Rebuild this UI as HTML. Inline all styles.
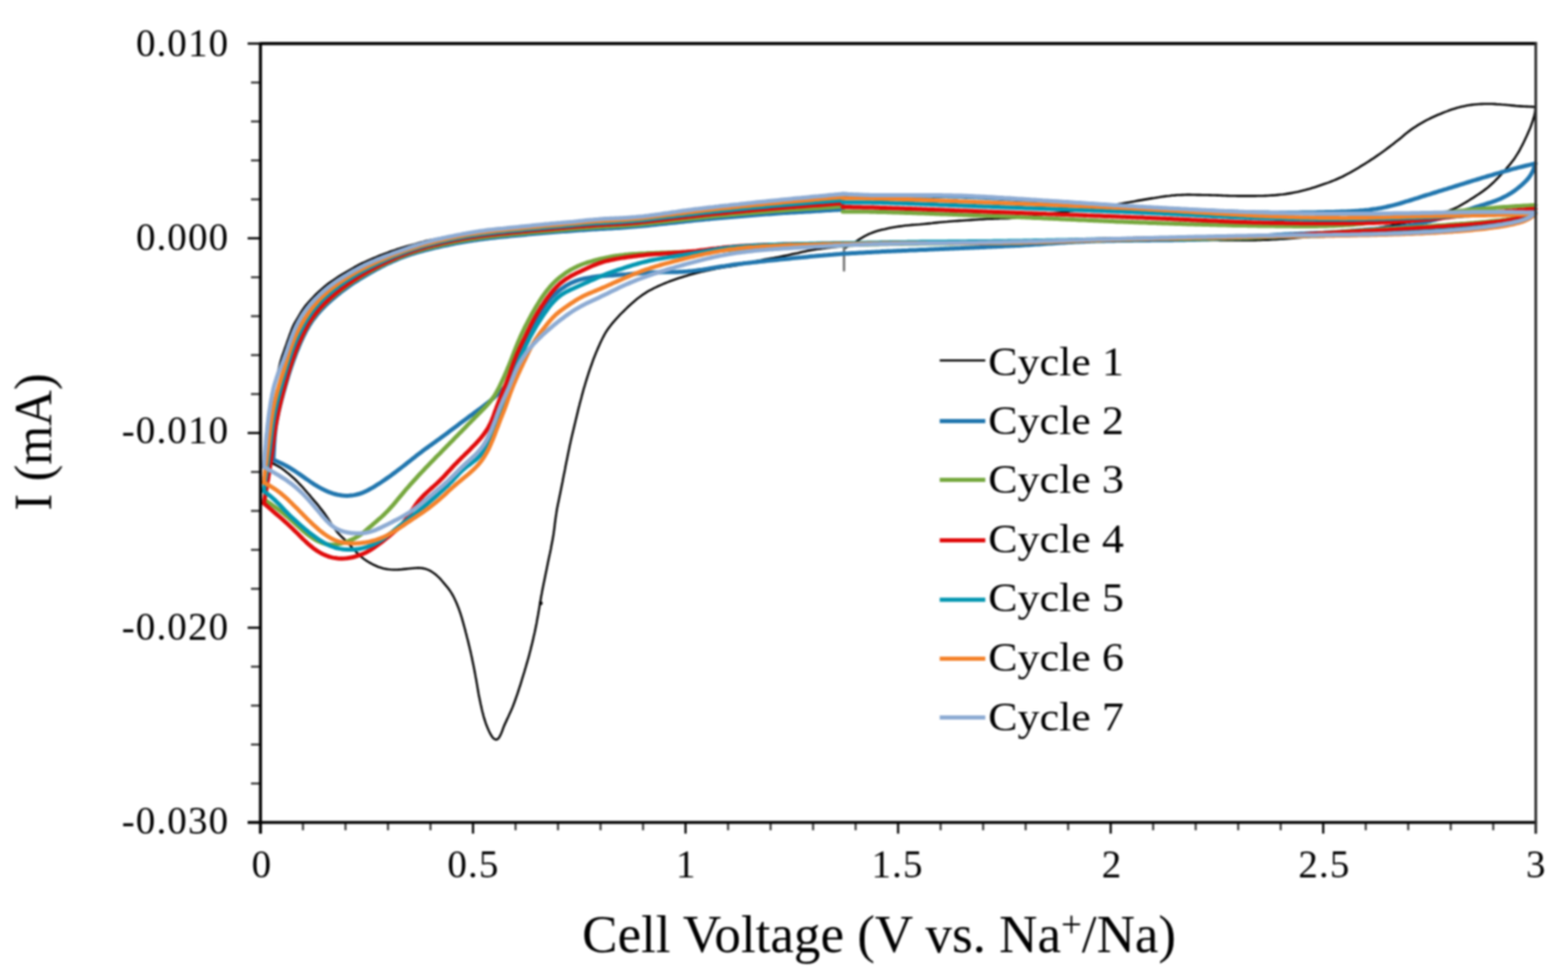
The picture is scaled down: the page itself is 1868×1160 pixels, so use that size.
<!DOCTYPE html>
<html><head><meta charset="utf-8"><title>Cyclic voltammetry</title>
<style>
html,body{margin:0;padding:0;background:#fff;}
body{width:1868px;height:1160px;overflow:hidden;}
svg{display:block;}
text{font-family:"Liberation Serif","Times New Roman",serif;fill:#000;}
</style></head>
<body>
<svg width="1868" height="1160" viewBox="0 0 1868 1160">
<defs><filter id="soft" x="-1%" y="-1%" width="102%" height="102%" color-interpolation-filters="sRGB"><feGaussianBlur stdDeviation="0.8"/></filter></defs>
<rect x="0" y="0" width="1868" height="1160" fill="#fff"/>
<g filter="url(#soft)">
<g fill="none" stroke-linejoin="round" stroke-linecap="round">
<path d="M1005.5,296.0 L1008.1,294.5 L1010.7,293.0 L1013.3,291.5 L1015.9,290.0 L1018.5,288.5 L1021.0,286.8 L1023.5,285.2 L1026.1,283.6 L1028.6,282.1 L1031.3,280.6 L1033.9,279.3 L1036.7,278.1 L1039.5,277.0 L1042.3,276.0 L1045.2,275.1 L1048.1,274.3 L1051.0,273.5 L1053.9,272.9 L1056.8,272.2 L1059.8,271.6 L1062.7,271.0 L1065.7,270.5 L1068.6,270.0 L1071.6,269.6 L1074.6,269.2 L1077.5,268.8 L1080.5,268.5 L1083.5,268.2 L1086.5,267.9 L1089.5,267.7 L1092.5,267.5 L1095.5,267.3 L1098.5,267.0 L1101.5,266.7 L1104.5,266.4 L1107.4,266.1 L1110.4,265.8 L1113.4,265.4 L1116.4,265.1 L1119.4,264.8 L1122.4,264.5 L1125.3,264.2 L1128.3,264.0 L1131.3,263.7 L1134.3,263.5 L1137.3,263.3 L1140.3,263.1 L1143.3,262.9 L1146.3,262.7 L1149.3,262.5 L1152.3,262.3 L1155.3,262.1 L1158.3,261.9 L1161.3,261.7 L1164.3,261.5 L1167.3,261.3 L1170.3,261.2 L1173.3,261.0 L1176.3,260.8 L1179.3,260.7 L1182.3,260.6 L1185.3,260.5 L1188.3,260.4 L1191.3,260.3 L1194.3,260.3 L1197.3,260.2 L1200.3,260.1 L1203.3,260.0 L1206.3,259.8 L1209.3,259.6 L1212.2,259.4 L1215.2,259.1 L1218.2,258.8 L1221.2,258.5 L1224.2,258.2 L1227.2,257.8 L1230.2,257.5 L1233.1,257.1 L1236.1,256.7 L1239.1,256.3 L1242.1,255.9 L1245.0,255.5 L1248.0,255.1 L1251.0,254.7 L1254.0,254.3 L1256.9,253.9 L1259.9,253.5 L1262.9,253.1 L1265.9,252.7 L1268.8,252.3 L1271.8,251.9 L1274.8,251.5 L1277.8,251.1 L1280.7,250.7 L1283.7,250.3 L1286.7,249.9 L1289.7,249.5 L1292.6,249.1 L1295.6,248.6 L1298.6,248.2 L1301.5,247.8 L1304.5,247.3 L1307.5,246.9 L1310.4,246.4 L1313.4,246.0 L1316.4,245.5 L1319.3,245.1 L1322.3,244.6 L1325.3,244.2 L1328.2,243.7 L1331.2,243.2 L1334.2,242.7 L1337.1,242.3 L1340.1,241.8 L1343.1,241.3 L1346.0,240.8 L1349.0,240.2 L1351.9,239.7 L1354.9,239.1 L1357.8,238.6 L1360.8,238.1 L1363.7,237.6 L1366.7,237.1 L1369.7,236.6 L1372.6,236.1 L1375.6,235.7 L1378.6,235.2 L1381.5,234.8 L1384.5,234.3 L1387.5,233.9 L1390.4,233.5 L1393.4,233.2 L1396.4,232.8 L1399.4,232.6 L1402.4,232.3 L1405.4,232.2 L1408.4,232.1 L1411.4,232.0 L1414.4,231.9 L1417.4,231.9 L1420.4,232.0 L1423.4,232.0 L1426.4,232.1 L1429.4,232.1 L1432.4,232.2 L1435.4,232.3 L1438.4,232.3 L1441.4,232.4 L1444.4,232.5 L1447.4,232.5 L1450.4,232.6 L1453.4,232.7 L1456.4,232.9 L1459.4,233.0 L1462.4,233.1 L1465.4,233.2 L1468.4,233.2 L1471.4,233.3 L1474.4,233.4 L1477.4,233.4 L1480.4,233.4 L1483.4,233.4 L1486.4,233.4 L1489.4,233.4 L1492.4,233.4 L1495.4,233.4 L1498.4,233.3 L1501.4,233.3 L1504.4,233.2 L1507.4,233.1 L1510.4,233.0 L1513.4,232.8 L1516.4,232.6 L1519.4,232.4 L1522.4,232.1 L1525.4,231.8 L1528.4,231.5 L1531.3,231.1 L1534.3,230.6 L1537.3,230.1 L1540.2,229.6 L1543.2,229.0 L1546.1,228.4 L1549.0,227.7 L1551.9,227.0 L1554.9,226.3 L1557.7,225.5 L1560.6,224.7 L1563.5,223.8 L1566.4,222.9 L1569.2,222.0 L1572.1,221.0 L1574.9,220.1 L1577.8,219.1 L1580.6,218.1 L1583.4,217.1 L1586.2,216.0 L1589.0,214.9 L1591.8,213.7 L1594.5,212.5 L1597.3,211.3 L1600.0,210.0 L1602.6,208.6 L1605.3,207.2 L1607.9,205.8 L1610.5,204.3 L1613.1,202.8 L1615.7,201.3 L1618.3,199.8 L1620.9,198.2 L1623.4,196.6 L1626.0,195.1 L1628.5,193.5 L1631.1,191.8 L1633.6,190.2 L1636.1,188.6 L1638.6,186.9 L1641.1,185.2 L1643.5,183.5 L1646.0,181.7 L1648.4,180.0 L1650.8,178.2 L1653.2,176.4 L1655.6,174.6 L1658.0,172.8 L1660.4,170.9 L1662.7,169.1 L1665.1,167.2 L1667.5,165.4 L1669.8,163.5 L1672.1,161.5 L1674.4,159.6 L1676.7,157.7 L1679.1,155.9 L1681.5,154.1 L1684.0,152.4 L1686.5,150.8 L1689.0,149.2 L1691.6,147.6 L1694.2,146.1 L1696.8,144.6 L1699.4,143.2 L1702.1,141.9 L1704.8,140.5 L1707.5,139.3 L1710.3,138.0 L1713.0,136.8 L1715.8,135.7 L1718.6,134.5 L1721.4,133.4 L1724.2,132.4 L1727.0,131.3 L1729.8,130.3 L1732.7,129.4 L1735.5,128.5 L1738.4,127.8 L1741.3,127.0 L1744.3,126.4 L1747.2,125.8 L1750.2,125.3 L1753.1,124.9 L1756.1,124.5 L1759.1,124.2 L1762.1,124.0 L1765.1,123.9 L1768.1,123.8 L1771.1,123.7 L1774.1,123.7 L1777.1,123.8 L1780.1,123.9 L1783.1,124.1 L1786.1,124.2 L1789.1,124.5 L1792.1,124.7 L1795.1,125.0 L1798.1,125.3 L1801.0,125.6 L1804.0,125.9 L1807.0,126.2 L1810.0,126.4 L1813.0,126.6 L1816.0,126.8 L1819.0,126.9 L1822.0,127.0 L1825.0,127.1 L1828.0,127.3 L1829.0,127.3" stroke="#000000" stroke-width="2.6"/>
<path d="M1829.0,127.3 L1829.0,130.3 L1828.7,133.2 L1828.1,136.2 L1827.4,139.1 L1826.6,142.0 L1825.7,144.8 L1824.7,147.7 L1823.7,150.5 L1822.6,153.3 L1821.4,156.0 L1820.2,158.8 L1819.0,161.5 L1817.7,164.2 L1816.4,167.0 L1815.1,169.7 L1813.8,172.3 L1812.4,175.0 L1811.0,177.7 L1809.6,180.3 L1808.0,182.9 L1806.4,185.4 L1804.8,187.9 L1803.0,190.4 L1801.2,192.8 L1799.4,195.1 L1797.5,197.4 L1795.5,199.7 L1793.6,202.0 L1791.6,204.2 L1789.6,206.5 L1787.6,208.7 L1785.5,210.9 L1783.4,213.0 L1781.3,215.2 L1779.2,217.3 L1777.0,219.3 L1774.8,221.3 L1772.5,223.3 L1770.1,225.1 L1767.7,226.9 L1765.3,228.7 L1762.8,230.4 L1760.3,232.0 L1757.8,233.7 L1755.3,235.3 L1752.7,236.9 L1750.2,238.5 L1747.7,240.1 L1745.1,241.7 L1742.5,243.2 L1739.9,244.7 L1737.3,246.1 L1734.6,247.4 L1731.8,248.7 L1729.1,249.8 L1726.3,250.9 L1723.5,252.0 L1720.7,253.0 L1717.8,254.0 L1715.0,254.9 L1712.1,255.9 L1709.2,256.7 L1706.4,257.6 L1703.5,258.4 L1700.6,259.2 L1697.7,260.0 L1694.8,260.8 L1691.9,261.5 L1689.0,262.2 L1686.1,262.9 L1683.1,263.6 L1680.2,264.2 L1677.3,264.9 L1674.3,265.5 L1671.4,266.1 L1668.4,266.7 L1665.5,267.2 L1662.5,267.8 L1659.6,268.3 L1656.6,268.8 L1653.7,269.4 L1650.7,269.9 L1647.8,270.4 L1644.8,270.8 L1641.8,271.3 L1638.9,271.8 L1635.9,272.2 L1632.9,272.6 L1630.0,273.1 L1627.0,273.5 L1624.0,273.9 L1621.0,274.3 L1618.1,274.7 L1615.1,275.0 L1612.1,275.4 L1609.1,275.8 L1606.2,276.2 L1603.2,276.6 L1600.2,277.0 L1597.2,277.4 L1594.3,277.8 L1591.3,278.1 L1588.3,278.5 L1585.3,278.9 L1582.3,279.3 L1579.4,279.7 L1576.4,280.1 L1573.4,280.4 L1570.4,280.8 L1567.5,281.2 L1564.5,281.5 L1561.5,281.8 L1558.5,282.2 L1555.5,282.5 L1552.5,282.8 L1549.5,283.0 L1546.6,283.3 L1543.6,283.5 L1540.6,283.8 L1537.6,284.0 L1534.6,284.2 L1531.6,284.5 L1528.6,284.7 L1525.6,284.8 L1522.6,285.0 L1519.6,285.2 L1516.6,285.3 L1513.6,285.5 L1510.6,285.6 L1507.6,285.7 L1504.6,285.8 L1501.6,285.9 L1498.6,286.0 L1495.6,286.1 L1492.6,286.2 L1489.6,286.2 L1486.6,286.2 L1483.6,286.2 L1480.6,286.2 L1477.6,286.2 L1474.6,286.2 L1471.6,286.2 L1468.6,286.2 L1465.6,286.2 L1462.6,286.1 L1459.6,286.1 L1456.6,286.1 L1453.6,286.1 L1450.6,286.0 L1447.6,286.0 L1444.6,286.0 L1441.6,286.0 L1438.6,286.0 L1435.6,286.0 L1432.6,286.0 L1429.6,286.0 L1426.6,286.0 L1423.6,286.0 L1420.6,286.0 L1417.6,286.0 L1414.6,286.1 L1411.6,286.1 L1408.6,286.1 L1405.6,286.1 L1402.6,286.1 L1399.6,286.1 L1396.6,286.1 L1393.6,286.1 L1390.6,286.1 L1387.6,286.1 L1384.6,286.1 L1381.6,286.2 L1378.6,286.2 L1375.6,286.2 L1372.6,286.2 L1369.6,286.2 L1366.6,286.2 L1363.6,286.3 L1360.6,286.3 L1357.6,286.3 L1354.6,286.3 L1351.6,286.4 L1348.6,286.4 L1345.6,286.4 L1342.6,286.5 L1339.6,286.5 L1336.6,286.5 L1333.6,286.6 L1330.6,286.6 L1327.6,286.7 L1324.6,286.7 L1321.6,286.8 L1318.6,286.8 L1315.6,286.9 L1312.6,286.9 L1309.6,287.0 L1306.6,287.0 L1303.6,287.1 L1300.6,287.2 L1297.6,287.2 L1294.6,287.3 L1291.6,287.3 L1288.6,287.4 L1285.6,287.5 L1282.6,287.5 L1279.6,287.6 L1276.6,287.7 L1273.6,287.7 L1270.6,287.8 L1267.6,287.9 L1264.6,287.9 L1261.6,288.0 L1258.6,288.1 L1255.6,288.1 L1252.6,288.2 L1249.6,288.3 L1246.6,288.3 L1243.6,288.4 L1240.6,288.4 L1237.6,288.5 L1234.6,288.6 L1231.6,288.6 L1228.6,288.7 L1225.6,288.7 L1222.6,288.8 L1219.6,288.8 L1216.6,288.9 L1213.5,289.0 L1210.5,289.0 L1207.5,289.1 L1204.5,289.1 L1201.5,289.1 L1198.5,289.2 L1195.5,289.2 L1192.5,289.3 L1189.5,289.3 L1186.5,289.4 L1183.5,289.4 L1180.5,289.5 L1177.5,289.5 L1174.5,289.5 L1171.5,289.6 L1168.5,289.6 L1165.5,289.6 L1162.5,289.7 L1159.5,289.7 L1156.5,289.8 L1153.5,289.8 L1150.5,289.8 L1147.5,289.9 L1144.5,289.9 L1141.5,289.9 L1138.5,290.0 L1135.5,290.0 L1132.5,290.1 L1129.5,290.1 L1126.5,290.1 L1123.5,290.2 L1120.5,290.2 L1117.5,290.3 L1114.5,290.3 L1111.5,290.3 L1108.5,290.4 L1105.5,290.4 L1102.5,290.5 L1099.5,290.5 L1096.5,290.5 L1093.5,290.6 L1090.5,290.6 L1087.5,290.7 L1084.5,290.7 L1081.5,290.7 L1078.5,290.8 L1075.5,290.8 L1072.5,290.9 L1069.5,290.9 L1066.5,290.9 L1063.5,291.0 L1060.5,291.0 L1057.5,291.1 L1054.5,291.1 L1051.5,291.2 L1048.5,291.3 L1045.5,291.3 L1042.5,291.4 L1039.5,291.5 L1036.5,291.6 L1033.5,291.7 L1030.5,291.8 L1027.5,292.0 L1024.5,292.1 L1021.5,292.2 L1018.5,292.4 L1015.5,292.5 L1012.5,292.7 L1009.5,292.9 L1006.5,293.1 L1003.5,293.3 L1000.6,293.6 L997.6,293.9 L994.6,294.2 L991.6,294.5 L988.6,294.9 L985.6,295.2 L982.7,295.6 L979.7,296.0 L976.7,296.4 L973.7,296.8 L970.8,297.2 L967.8,297.7 L964.8,298.2 L961.9,298.8 L959.0,299.4 L956.0,300.0 L953.1,300.7 L950.2,301.4 L947.2,302.0 L944.3,302.6 L941.4,303.3 L938.4,303.9 L935.5,304.5 L932.6,305.1 L929.6,305.7 L926.7,306.3 L923.7,306.8 L920.8,307.4 L917.8,307.9 L914.9,308.4 L911.9,308.9 L909.0,309.4 L906.0,310.0 L903.1,310.6 L900.1,311.2 L897.2,311.9 L894.3,312.5 L891.3,313.2 L888.4,313.8 L885.5,314.4 L882.5,315.0 L879.6,315.6 L876.6,316.1 L873.7,316.6 L870.7,317.1 L867.7,317.6 L864.8,318.0 L861.8,318.5 L858.9,319.0 L855.9,319.5 L852.9,320.1 L850.0,320.7 L847.1,321.3 L844.1,321.9 L841.2,322.5 L838.3,323.2 L835.3,323.8 L832.4,324.5 L829.5,325.2 L826.6,326.0 L823.7,326.8 L820.8,327.6 L817.9,328.4 L815.1,329.3 L812.2,330.2 L809.3,331.1 L806.5,332.0 L803.6,333.0 L800.8,334.0 L798.0,335.0 L795.2,336.1 L792.4,337.2 L789.6,338.4 L786.9,339.6 L784.2,340.8 L781.4,342.1 L778.7,343.4 L776.1,344.8 L773.4,346.2 L770.8,347.7 L768.3,349.3 L765.8,350.9 L763.3,352.7 L760.9,354.5 L758.6,356.3 L756.3,358.2 L754.0,360.2 L751.7,362.2 L749.5,364.2 L747.3,366.3 L745.2,368.4 L743.1,370.5 L740.9,372.6 L738.8,374.7 L736.8,376.9 L734.7,379.1 L732.7,381.3 L730.7,383.6 L728.8,385.9 L727.0,388.2 L725.2,390.6 L723.5,393.1 L721.8,395.6 L720.3,398.2 L718.9,400.9 L717.5,403.5 L716.2,406.2 L714.9,408.9 L713.7,411.7 L712.5,414.4 L711.3,417.2 L710.1,420.0 L709.0,422.7 L707.9,425.5 L706.8,428.3 L705.8,431.1 L704.8,434.0 L703.8,436.8 L702.8,439.6 L701.8,442.5 L700.9,445.3 L700.0,448.2 L699.1,451.0 L698.2,453.9 L697.3,456.8 L696.5,459.7 L695.6,462.5 L694.8,465.4 L694.0,468.3 L693.2,471.2 L692.5,474.1 L691.7,477.0 L690.9,479.9 L690.2,482.8 L689.4,485.7 L688.7,488.6 L688.0,491.6 L687.3,494.5 L686.6,497.4 L685.9,500.3 L685.2,503.2 L684.5,506.1 L683.8,509.1 L683.1,512.0 L682.4,514.9 L681.7,517.8 L681.0,520.7 L680.3,523.7 L679.7,526.6 L679.0,529.5 L678.4,532.5 L677.8,535.4 L677.2,538.3 L676.6,541.3 L676.0,544.2 L675.4,547.2 L674.8,550.1 L674.2,553.0 L673.6,556.0 L673.1,558.9 L672.5,561.9 L671.9,564.8 L671.3,567.8 L670.7,570.7 L670.2,573.7 L669.6,576.6 L669.0,579.6 L668.4,582.5 L667.8,585.4 L667.2,588.4 L666.6,591.3 L666.0,594.2 L665.4,597.2 L664.8,600.1 L664.2,603.1 L663.6,606.0 L663.1,609.0 L662.7,611.9 L662.2,614.9 L661.8,617.9 L661.4,620.9 L661.0,623.8 L660.7,626.8 L660.3,629.8 L659.9,632.8 L659.5,635.7 L659.0,638.7 L658.5,641.7 L658.0,644.6 L657.4,647.6 L656.8,650.5 L656.3,653.5 L655.7,656.4 L655.1,659.3 L654.4,662.3 L653.8,665.2 L653.2,668.1 L652.6,671.1 L652.0,674.0 L651.4,677.0 L650.8,679.9 L650.2,682.8 L649.6,685.8 L649.0,688.7 L648.4,691.7 L647.8,694.6 L647.2,697.5 L646.6,700.5 L646.0,703.4 L645.5,706.4 L644.9,709.3 L644.4,712.3 L643.9,715.2 L643.4,718.2 L642.9,721.2 L642.4,724.1 L641.9,727.1 L641.4,730.0 L640.9,733.0 L640.3,736.0 L639.8,738.9 L639.3,741.9 L638.7,744.8 L638.1,747.7 L637.5,750.7 L636.9,753.6 L636.2,756.5 L635.5,759.5 L634.9,762.4 L634.2,765.3 L633.5,768.2 L632.7,771.1 L632.0,774.1 L631.2,777.0 L630.5,779.9 L629.7,782.8 L628.9,785.6 L628.1,788.5 L627.2,791.4 L626.4,794.3 L625.5,797.2 L624.7,800.1 L623.8,802.9 L622.9,805.8 L622.0,808.7 L621.2,811.5 L620.3,814.4 L619.4,817.3 L618.4,820.1 L617.5,823.0 L616.6,825.8 L615.6,828.7 L614.6,831.5 L613.6,834.3 L612.6,837.1 L611.5,839.9 L610.4,842.7 L609.2,845.5 L608.0,848.2 L606.7,851.0 L605.5,853.7 L604.2,856.4 L603.0,859.1 L601.7,861.9 L600.5,864.6 L599.4,867.4 L598.4,870.2 L597.3,873.0 L596.1,875.7 L594.6,878.3 L592.8,880.3 L590.7,880.9 L588.5,879.9 L586.5,877.8 L584.9,875.3 L583.5,872.7 L582.2,870.0 L581.0,867.2 L579.9,864.5 L578.8,861.7 L577.9,858.8 L577.0,856.0 L576.1,853.1 L575.4,850.2 L574.6,847.3 L573.9,844.3 L573.3,841.4 L572.6,838.5 L572.0,835.6 L571.4,832.6 L570.8,829.7 L570.2,826.7 L569.7,823.8 L569.2,820.8 L568.7,817.9 L568.2,814.9 L567.7,811.9 L567.2,809.0 L566.6,806.0 L566.1,803.1 L565.5,800.1 L565.0,797.2 L564.4,794.2 L563.8,791.3 L563.2,788.4 L562.6,785.4 L562.0,782.5 L561.3,779.5 L560.7,776.6 L560.0,773.7 L559.3,770.8 L558.6,767.9 L557.9,764.9 L557.2,762.0 L556.4,759.1 L555.7,756.2 L554.9,753.3 L554.2,750.4 L553.4,747.5 L552.6,744.6 L551.8,741.7 L551.0,738.8 L550.2,735.9 L549.3,733.1 L548.4,730.2 L547.4,727.4 L546.4,724.5 L545.3,721.8 L544.2,719.0 L543.0,716.2 L541.7,713.5 L540.4,710.8 L539.0,708.2 L537.4,705.6 L535.8,703.1 L534.0,700.7 L532.1,698.4 L530.2,696.1 L528.3,693.8 L526.3,691.5 L524.3,689.2 L522.2,687.1 L520.0,685.1 L517.7,683.2 L515.2,681.5 L512.7,679.9 L510.0,678.6 L507.2,677.6 L504.3,676.9 L501.3,676.5 L498.4,676.4 L495.4,676.5 L492.4,676.7 L489.4,677.0 L486.4,677.3 L483.4,677.6 L480.4,677.9 L477.4,678.2 L474.4,678.4 L471.5,678.5 L468.5,678.5 L465.5,678.3 L462.5,678.0 L459.5,677.6 L456.6,676.9 L453.7,676.1 L450.9,675.2 L448.1,674.0 L445.4,672.8 L442.7,671.4 L440.1,670.0 L437.5,668.4 L435.0,666.7 L432.6,665.0 L430.3,663.1 L428.1,661.1 L425.9,659.0 L423.8,656.8 L421.8,654.6 L419.7,652.4 L417.7,650.2 L415.7,648.0 L413.7,645.8 L411.6,643.6 L409.4,641.5 L407.2,639.5 L405.1,637.4 L403.0,635.2 L401.1,632.9 L399.3,630.5 L397.6,628.1 L395.9,625.6 L394.3,623.1 L392.6,620.5 L391.0,618.0 L389.3,615.5 L387.6,613.1 L385.9,610.6 L384.1,608.2 L382.2,605.9 L380.4,603.5 L378.5,601.2 L376.6,598.9 L374.6,596.6 L372.7,594.3 L370.7,592.0 L368.8,589.7 L366.8,587.5 L364.8,585.2 L362.9,583.0 L360.9,580.7 L358.9,578.5 L356.8,576.3 L354.7,574.1 L352.6,572.0 L350.5,569.9 L348.2,567.9 L345.9,566.0 L343.6,564.0 L341.3,562.2 L338.9,560.3 L336.5,558.5 L334.1,556.8 L331.5,555.3 L328.8,553.9 L326.2,552.5 L323.5,551.2 L322.6,550.7" stroke="#000000" stroke-width="2.6"/>
<path d="M322.6,550.7 L322.2,547.7 L321.9,544.7 L321.5,541.8 L321.2,538.8 L320.9,535.8 L320.6,532.8 L320.4,529.8 L320.2,526.8 L320.1,523.8 L320.0,520.8 L319.9,517.8 L319.8,514.8 L319.6,511.8 L319.3,508.8 L319.2,505.8 L319.3,502.8 L319.6,499.8 L320.0,496.9 L320.4,493.9 L320.8,490.9 L321.3,487.9 L321.7,485.0 L322.1,482.0 L322.6,479.0 L323.1,476.1 L323.7,473.1 L324.2,470.2 L324.9,467.2 L325.5,464.3 L326.1,461.4 L326.9,458.5 L327.6,455.6 L328.4,452.7 L329.2,449.8 L330.0,446.9 L330.8,444.0 L331.6,441.1 L332.3,438.2 L333.0,435.2 L333.7,432.3 L334.5,429.4 L335.4,426.6 L336.3,423.7 L337.3,420.9 L338.3,418.1 L339.3,415.2 L340.3,412.4 L341.3,409.6 L342.3,406.7 L343.3,403.9 L344.3,401.1 L345.3,398.2 L346.4,395.4 L347.4,392.6 L348.6,389.8 L349.8,387.1 L351.2,384.4 L352.7,381.8 L354.2,379.3 L355.8,376.7 L357.3,374.1 L358.9,371.5 L360.5,369.0 L362.2,366.5 L364.0,364.1 L365.9,361.8 L367.9,359.6 L369.9,357.4 L372.0,355.2 L374.0,353.0 L376.1,350.8 L378.3,348.8 L380.5,346.7 L382.8,344.7 L385.0,342.8 L387.3,340.8 L389.6,338.9 L392.0,337.1 L394.5,335.4 L396.9,333.7 L399.4,332.0 L401.9,330.4 L404.5,328.7 L407.0,327.2 L409.6,325.6 L412.2,324.1 L414.8,322.6 L417.4,321.1 L420.0,319.6 L422.6,318.0 L425.2,316.6 L427.8,315.1 L430.5,313.8 L433.3,312.6 L436.0,311.4 L438.7,310.1 L441.5,308.9 L444.3,307.7 L447.0,306.6 L449.8,305.4 L452.6,304.3 L455.4,303.3 L458.2,302.2 L461.0,301.2 L463.8,300.1 L466.7,299.1 L469.5,298.1 L472.3,297.1 L475.2,296.2 L478.1,295.3 L480.9,294.4 L483.8,293.6 L486.7,292.8 L489.6,292.0 L492.5,291.2 L495.4,290.4 L498.3,289.5 L501.2,288.7 L504.1,287.9 L507.0,287.1 L509.9,286.4 L512.8,285.8 L515.8,285.3 L518.7,284.8 L521.7,284.2 L524.6,283.7 L527.6,283.2 L530.5,282.7 L533.5,282.1 L536.5,281.6 L539.4,281.1 L542.4,280.6 L545.3,280.1 L548.3,279.5 L551.2,279.0 L554.2,278.5 L557.2,278.0 L560.1,277.5 L563.1,276.9 L566.0,276.4 L569.0,275.9 L572.0,275.4 L574.9,274.9 L577.9,274.5 L580.9,274.1 L583.9,273.8 L586.8,273.5 L589.8,273.2 L592.8,272.9 L595.8,272.6 L598.8,272.3 L601.8,272.0 L604.8,271.7 L607.8,271.4 L610.7,271.1 L613.7,270.8 L616.7,270.4 L619.7,270.1 L622.7,269.8 L625.7,269.5 L628.7,269.2 L631.7,268.9 L634.6,268.6 L637.6,268.3 L640.6,268.0 L643.6,267.7 L646.6,267.4 L649.6,267.2 L652.6,266.9 L655.6,266.6 L658.6,266.4 L661.5,266.1 L664.5,265.8 L667.5,265.6 L670.5,265.3 L673.5,265.1 L676.5,264.8 L679.5,264.5 L682.5,264.2 L685.5,263.9 L688.5,263.6 L691.4,263.3 L694.4,263.0 L697.4,262.7 L700.4,262.4 L703.4,262.1 L706.4,261.8 L709.4,261.5 L712.4,261.2 L715.4,261.0 L718.4,260.8 L721.3,260.6 L724.3,260.4 L727.3,260.3 L730.3,260.1 L733.3,260.0 L736.3,259.8 L739.3,259.6 L742.3,259.5 L745.3,259.3 L748.3,259.1 L751.3,259.0 L754.3,258.8 L757.3,258.6 L760.3,258.4 L763.3,258.0 L766.3,257.7 L769.3,257.2 L772.2,256.8 L775.2,256.4 L778.2,256.0 L781.2,255.6 L784.1,255.2 L787.1,254.8 L790.1,254.4 L793.1,254.0 L796.0,253.6 L799.0,253.2 L802.0,252.7 L805.0,252.3 L807.9,251.9 L810.9,251.5 L813.9,251.1 L816.9,250.7 L819.8,250.3 L822.8,249.9 L825.8,249.5 L828.8,249.2 L831.8,248.8 L834.7,248.5 L837.7,248.2 L840.7,247.8 L843.7,247.5 L846.7,247.2 L849.7,246.8 L852.6,246.5 L855.6,246.2 L858.6,245.8 L861.6,245.5 L864.6,245.2 L867.6,244.9 L870.6,244.5 L873.5,244.2 L876.5,243.9 L879.5,243.5 L882.5,243.2 L885.5,242.9 L888.5,242.5 L891.4,242.2 L894.4,241.9 L897.4,241.5 L900.4,241.2 L903.4,240.9 L906.4,240.5 L909.4,240.2 L912.3,239.9 L915.3,239.6 L918.3,239.3 L921.3,239.0 L924.3,238.7 L927.3,238.4 L930.3,238.2 L933.3,237.9 L936.3,237.6 L939.2,237.3 L942.2,237.0 L945.2,236.7 L948.2,236.4 L951.2,236.1 L954.2,235.8 L957.2,235.5 L960.2,235.3 L963.2,235.0 L966.1,234.7 L969.1,234.4 L972.1,234.1 L975.1,233.8 L978.1,233.5 L981.1,233.2 L984.1,232.9 L987.1,232.6 L990.1,232.4 L993.0,232.1 L996.0,231.8 L999.0,231.5 L1002.0,231.2 L1004.0,231.0" stroke="#000000" stroke-width="2.6"/>
<line x1="1005.5" y1="296" x2="1005.5" y2="322" stroke="#7a7a7a" stroke-width="3"/><circle cx="644.2" cy="718.4" r="2.3" fill="#000"/>
<path d="M1004.0,233.0 L1007.0,233.0 L1010.0,233.0 L1013.0,233.0 L1016.0,233.0 L1019.0,233.0 L1022.0,233.0 L1025.0,233.0 L1028.0,233.0 L1031.0,233.0 L1034.0,233.0 L1037.0,233.0 L1040.0,233.0 L1043.0,233.0 L1046.0,233.0 L1049.0,233.0 L1052.0,233.0 L1055.0,233.0 L1058.0,233.0 L1061.0,233.1 L1064.0,233.1 L1067.0,233.1 L1070.0,233.1 L1073.0,233.1 L1076.0,233.1 L1079.0,233.1 L1082.0,233.1 L1085.0,233.1 L1088.0,233.2 L1091.0,233.2 L1094.0,233.2 L1097.0,233.2 L1100.0,233.2 L1103.0,233.3 L1106.1,233.3 L1109.1,233.3 L1112.1,233.4 L1115.1,233.4 L1118.1,233.5 L1121.1,233.5 L1124.1,233.6 L1127.1,233.6 L1130.1,233.7 L1133.1,233.8 L1136.1,233.9 L1139.1,234.0 L1142.1,234.0 L1145.1,234.1 L1148.1,234.2 L1151.1,234.4 L1154.1,234.5 L1157.1,234.6 L1160.1,234.7 L1163.1,234.8 L1166.1,235.0 L1169.1,235.1 L1172.1,235.3 L1175.0,235.4 L1178.0,235.6 L1181.0,235.7 L1184.0,235.9 L1187.0,236.0 L1190.0,236.2 L1193.0,236.4 L1196.0,236.6 L1199.0,236.7 L1202.0,236.9 L1205.0,237.1 L1208.0,237.3 L1211.0,237.4 L1214.0,237.6 L1217.0,237.8 L1220.0,238.0 L1223.0,238.2 L1226.0,238.3 L1229.0,238.5 L1232.0,238.7 L1235.0,238.9 L1238.0,239.1 L1241.0,239.3 L1244.0,239.4 L1247.0,239.6 L1250.0,239.8 L1253.0,240.0 L1255.9,240.2 L1258.9,240.4 L1261.9,240.6 L1264.9,240.8 L1267.9,241.0 L1270.9,241.2 L1273.9,241.4 L1276.9,241.6 L1279.9,241.8 L1282.9,242.0 L1285.9,242.2 L1288.9,242.4 L1291.9,242.6 L1294.9,242.8 L1297.9,243.0 L1300.9,243.2 L1303.9,243.4 L1306.9,243.6 L1309.9,243.8 L1312.8,244.0 L1315.8,244.3 L1318.8,244.5 L1321.8,244.7 L1324.8,244.8 L1327.8,245.0 L1330.8,245.2 L1333.8,245.4 L1336.8,245.6 L1339.8,245.8 L1342.8,246.0 L1345.8,246.2 L1348.8,246.3 L1351.8,246.5 L1354.8,246.7 L1357.8,246.9 L1360.8,247.0 L1363.8,247.2 L1366.8,247.4 L1369.8,247.5 L1372.8,247.7 L1375.8,247.8 L1378.8,248.0 L1381.8,248.1 L1384.8,248.3 L1387.8,248.4 L1390.8,248.6 L1393.7,248.7 L1396.7,248.9 L1399.7,249.0 L1402.7,249.2 L1405.7,249.3 L1408.7,249.5 L1411.7,249.6 L1414.7,249.8 L1417.7,249.9 L1420.7,250.0 L1423.7,250.2 L1426.7,250.3 L1429.7,250.5 L1432.7,250.6 L1435.7,250.7 L1438.7,250.9 L1441.7,251.0 L1444.7,251.1 L1447.7,251.2 L1450.7,251.4 L1453.7,251.5 L1456.7,251.6 L1459.7,251.7 L1462.7,251.8 L1465.7,251.9 L1468.7,252.0 L1471.7,252.2 L1474.7,252.3 L1477.7,252.4 L1480.7,252.4 L1483.7,252.5 L1486.7,252.6 L1489.7,252.7 L1492.7,252.8 L1495.7,252.9 L1498.7,252.9 L1501.7,253.0 L1504.7,253.1 L1507.7,253.1 L1510.7,253.1 L1513.7,253.2 L1516.7,253.2 L1519.7,253.2 L1522.7,253.3 L1525.7,253.3 L1528.7,253.3 L1531.7,253.3 L1534.7,253.3 L1537.7,253.2 L1540.7,253.2 L1543.7,253.2 L1546.7,253.2 L1549.7,253.1 L1552.7,253.1 L1555.7,253.0 L1558.7,253.0 L1561.7,253.0 L1564.7,252.9 L1567.7,252.9 L1570.7,252.8 L1573.7,252.8 L1576.7,252.7 L1579.7,252.6 L1582.8,252.6 L1585.8,252.5 L1588.8,252.4 L1591.8,252.3 L1594.8,252.2 L1597.8,252.1 L1600.7,252.0 L1603.7,251.9 L1606.7,251.7 L1609.7,251.6 L1612.7,251.4 L1615.7,251.2 L1618.7,251.0 L1621.7,250.7 L1624.7,250.5 L1627.7,250.2 L1630.7,249.9 L1633.6,249.5 L1636.6,249.1 L1639.6,248.7 L1642.5,248.2 L1645.5,247.7 L1648.4,247.1 L1651.4,246.5 L1654.3,245.8 L1657.2,245.1 L1660.1,244.4 L1663.0,243.6 L1665.9,242.8 L1668.8,242.0 L1671.7,241.1 L1674.5,240.2 L1677.4,239.4 L1680.3,238.5 L1683.1,237.6 L1686.0,236.7 L1688.9,235.8 L1691.7,234.8 L1694.6,233.9 L1697.4,233.0 L1700.3,232.1 L1703.2,231.3 L1706.0,230.4 L1708.9,229.5 L1711.8,228.6 L1714.6,227.7 L1717.5,226.8 L1720.4,225.9 L1723.3,225.1 L1726.1,224.2 L1729.0,223.3 L1731.9,222.4 L1734.7,221.5 L1737.6,220.6 L1740.5,219.7 L1743.3,218.8 L1746.2,217.9 L1749.0,217.0 L1751.9,216.1 L1754.8,215.2 L1757.6,214.4 L1760.5,213.5 L1763.4,212.6 L1766.3,211.7 L1769.1,210.9 L1772.0,210.0 L1774.9,209.1 L1777.8,208.3 L1780.6,207.4 L1783.5,206.6 L1786.4,205.8 L1789.3,204.9 L1792.2,204.1 L1795.1,203.3 L1798.0,202.5 L1800.8,201.7 L1803.7,200.9 L1806.7,200.2 L1809.6,199.4 L1812.5,198.7 L1815.4,198.0 L1818.3,197.3 L1821.2,196.6 L1824.1,195.9 L1827.1,195.2 L1829.0,194.7" stroke="#2176AE" stroke-width="5.0"/>
<path d="M1829.0,194.7 L1828.3,197.4 L1827.5,200.1 L1826.5,202.8 L1825.3,205.3 L1823.9,207.8 L1822.3,210.2 L1820.6,212.5 L1818.6,214.7 L1816.6,216.8 L1814.4,218.9 L1812.2,220.9 L1809.9,222.8 L1807.6,224.6 L1805.2,226.4 L1802.8,228.2 L1800.3,229.8 L1797.7,231.4 L1795.2,232.9 L1792.5,234.3 L1789.9,235.6 L1787.2,236.9 L1784.4,238.0 L1781.6,239.1 L1778.8,240.1 L1776.0,241.1 L1773.1,242.0 L1770.3,242.9 L1767.4,243.8 L1764.5,244.7 L1761.7,245.6 L1758.8,246.5 L1756.0,247.4 L1753.1,248.3 L1750.2,249.3 L1747.4,250.2 L1744.5,251.1 L1741.7,252.1 L1738.8,253.0 L1736.0,253.9 L1733.1,254.8 L1730.3,255.7 L1727.4,256.6 L1724.5,257.5 L1721.7,258.4 L1718.8,259.2 L1715.9,260.1 L1713.0,260.9 L1710.1,261.7 L1707.2,262.4 L1704.3,263.2 L1701.4,263.9 L1698.5,264.7 L1695.6,265.4 L1692.6,266.0 L1689.7,266.7 L1686.8,267.2 L1683.8,267.8 L1680.9,268.3 L1677.9,268.8 L1675.0,269.2 L1672.0,269.6 L1669.0,270.0 L1666.0,270.4 L1663.0,270.7 L1660.1,271.0 L1657.1,271.2 L1654.1,271.5 L1651.1,271.8 L1648.1,272.0 L1645.1,272.2 L1642.1,272.4 L1639.1,272.7 L1636.1,272.9 L1633.1,273.1 L1630.1,273.3 L1627.1,273.5 L1624.1,273.8 L1621.2,274.0 L1618.2,274.2 L1615.2,274.5 L1612.2,274.7 L1609.2,275.0 L1606.2,275.2 L1603.2,275.5 L1600.2,275.7 L1597.2,276.0 L1594.2,276.2 L1591.2,276.4 L1588.2,276.6 L1585.3,276.8 L1582.3,277.0 L1579.3,277.1 L1576.3,277.3 L1573.3,277.4 L1570.3,277.5 L1567.3,277.6 L1564.3,277.7 L1561.3,277.8 L1558.3,277.9 L1555.3,278.1 L1552.3,278.2 L1549.3,278.3 L1546.3,278.4 L1543.3,278.5 L1540.3,278.7 L1537.3,278.8 L1534.3,279.0 L1531.3,279.1 L1528.3,279.3 L1525.3,279.5 L1522.3,279.6 L1519.3,279.8 L1516.3,280.0 L1513.3,280.2 L1510.3,280.4 L1507.3,280.6 L1504.3,280.7 L1501.3,280.9 L1498.3,281.1 L1495.3,281.3 L1492.3,281.5 L1489.3,281.7 L1486.4,281.9 L1483.4,282.2 L1480.4,282.4 L1477.4,282.6 L1474.4,282.8 L1471.4,283.0 L1468.4,283.2 L1465.4,283.4 L1462.4,283.6 L1459.4,283.8 L1456.4,284.0 L1453.4,284.1 L1450.4,284.3 L1447.4,284.5 L1444.4,284.6 L1441.4,284.8 L1438.4,284.9 L1435.4,285.0 L1432.4,285.1 L1429.4,285.2 L1426.4,285.3 L1423.4,285.4 L1420.4,285.5 L1417.4,285.5 L1414.4,285.6 L1411.4,285.7 L1408.4,285.7 L1405.4,285.8 L1402.4,285.8 L1399.4,285.8 L1396.4,285.9 L1393.4,285.9 L1390.4,286.0 L1387.4,286.0 L1384.4,286.0 L1381.4,286.1 L1378.4,286.1 L1375.4,286.1 L1372.4,286.1 L1369.4,286.2 L1366.4,286.2 L1363.4,286.2 L1360.4,286.3 L1357.4,286.3 L1354.4,286.3 L1351.4,286.3 L1348.4,286.4 L1345.4,286.4 L1342.4,286.4 L1339.4,286.5 L1336.4,286.5 L1333.4,286.6 L1330.4,286.6 L1327.4,286.7 L1324.4,286.7 L1321.4,286.8 L1318.4,286.8 L1315.4,286.9 L1312.4,287.0 L1309.4,287.1 L1306.4,287.1 L1303.4,287.2 L1300.4,287.3 L1297.4,287.4 L1294.4,287.6 L1291.4,287.7 L1288.4,287.8 L1285.4,288.0 L1282.4,288.1 L1279.4,288.3 L1276.4,288.4 L1273.4,288.6 L1270.4,288.8 L1267.4,288.9 L1264.4,289.1 L1261.4,289.3 L1258.4,289.5 L1255.4,289.7 L1252.4,289.9 L1249.4,290.1 L1246.4,290.3 L1243.5,290.5 L1240.5,290.7 L1237.5,290.9 L1234.5,291.1 L1231.5,291.3 L1228.5,291.5 L1225.5,291.7 L1222.5,291.8 L1219.5,292.0 L1216.5,292.2 L1213.5,292.4 L1210.5,292.5 L1207.5,292.7 L1204.5,292.8 L1201.5,293.0 L1198.5,293.1 L1195.5,293.3 L1192.5,293.4 L1189.5,293.6 L1186.5,293.7 L1183.5,293.8 L1180.5,294.0 L1177.5,294.1 L1174.5,294.3 L1171.5,294.4 L1168.5,294.5 L1165.5,294.7 L1162.5,294.8 L1159.5,294.9 L1156.5,295.0 L1153.5,295.2 L1150.5,295.3 L1147.5,295.4 L1144.5,295.6 L1141.5,295.7 L1138.5,295.8 L1135.5,296.0 L1132.5,296.1 L1129.5,296.2 L1126.5,296.3 L1123.6,296.5 L1120.6,296.6 L1117.6,296.7 L1114.6,296.8 L1111.6,297.0 L1108.6,297.1 L1105.6,297.2 L1102.6,297.4 L1099.6,297.5 L1096.6,297.6 L1093.6,297.7 L1090.6,297.9 L1087.6,298.0 L1084.6,298.1 L1081.6,298.3 L1078.6,298.4 L1075.6,298.5 L1072.6,298.7 L1069.6,298.8 L1066.6,298.9 L1063.6,299.1 L1060.6,299.2 L1057.6,299.3 L1054.6,299.5 L1051.6,299.6 L1048.6,299.8 L1045.6,299.9 L1042.6,300.1 L1039.6,300.2 L1036.6,300.4 L1033.6,300.5 L1030.6,300.7 L1027.6,300.9 L1024.6,301.0 L1021.6,301.2 L1018.6,301.4 L1015.6,301.5 L1012.6,301.7 L1009.6,301.9 L1006.6,302.1 L1003.6,302.3 L1000.7,302.6 L997.7,302.8 L994.7,303.0 L991.7,303.3 L988.7,303.5 L985.7,303.8 L982.7,304.0 L979.7,304.3 L976.7,304.5 L973.7,304.8 L970.7,305.1 L967.8,305.3 L964.8,305.6 L961.8,305.9 L958.8,306.2 L955.8,306.5 L952.8,306.7 L949.8,307.0 L946.8,307.3 L943.8,307.6 L940.9,307.9 L937.9,308.2 L934.9,308.5 L931.9,308.8 L928.9,309.1 L925.9,309.4 L922.9,309.7 L920.0,310.0 L917.0,310.3 L914.0,310.6 L911.0,310.9 L908.0,311.3 L905.0,311.6 L902.1,311.9 L899.1,312.2 L896.1,312.6 L893.1,312.9 L890.1,313.3 L887.1,313.6 L884.2,314.0 L881.2,314.3 L878.2,314.7 L875.2,315.1 L872.3,315.5 L869.3,316.0 L866.3,316.4 L863.4,316.9 L860.4,317.3 L857.4,317.8 L854.5,318.3 L851.5,318.8 L848.5,319.3 L845.6,319.8 L842.6,320.3 L839.7,320.7 L836.7,321.2 L833.7,321.6 L830.8,322.0 L827.8,322.4 L824.8,322.8 L821.8,323.0 L818.8,323.3 L815.8,323.5 L812.9,323.7 L809.9,323.8 L806.9,323.9 L803.9,323.9 L800.9,324.0 L797.9,324.0 L794.9,324.0 L791.9,324.1 L788.9,324.1 L785.9,324.2 L782.9,324.3 L779.9,324.4 L776.9,324.6 L773.9,324.7 L770.9,324.9 L767.9,325.1 L764.9,325.3 L761.9,325.5 L758.9,325.8 L755.9,326.0 L752.9,326.2 L749.9,326.4 L746.9,326.7 L743.9,326.9 L740.9,327.1 L737.9,327.3 L734.9,327.5 L732.0,327.7 L729.0,327.9 L726.0,328.1 L723.0,328.3 L720.0,328.5 L717.0,328.7 L714.0,329.0 L711.0,329.3 L708.1,329.7 L705.1,330.1 L702.1,330.6 L699.2,331.1 L696.3,331.7 L693.4,332.4 L690.5,333.2 L687.7,334.1 L684.9,335.2 L682.1,336.3 L679.5,337.6 L676.8,338.9 L674.3,340.4 L671.8,342.1 L669.3,343.8 L666.9,345.5 L664.6,347.4 L662.4,349.4 L660.2,351.4 L658.0,353.5 L656.0,355.6 L654.0,357.8 L652.1,360.1 L650.3,362.5 L648.5,364.9 L646.9,367.4 L645.3,369.9 L643.8,372.5 L642.4,375.2 L641.0,377.8 L639.7,380.5 L638.4,383.2 L637.1,385.9 L635.8,388.6 L634.5,391.3 L633.2,394.0 L631.9,396.7 L630.6,399.4 L629.4,402.2 L628.1,404.9 L626.9,407.6 L625.7,410.4 L624.4,413.1 L623.2,415.9 L622.1,418.6 L620.9,421.4 L619.7,424.1 L618.6,426.9 L617.4,429.7 L616.3,432.5 L615.1,435.2 L614.0,438.0 L612.8,440.8 L611.6,443.5 L610.4,446.2 L609.1,448.9 L607.7,451.5 L606.2,454.1 L604.6,456.6 L602.9,459.0 L601.1,461.3 L599.1,463.5 L597.1,465.6 L594.9,467.7 L592.7,469.7 L590.5,471.7 L588.3,473.7 L586.0,475.6 L583.7,477.6 L581.4,479.5 L579.0,481.3 L576.6,483.2 L574.3,485.0 L571.9,486.8 L569.4,488.6 L567.0,490.3 L564.6,492.1 L562.2,493.9 L559.7,495.6 L557.3,497.4 L554.9,499.2 L552.5,501.0 L550.1,502.8 L547.7,504.6 L545.3,506.4 L542.9,508.2 L540.5,510.0 L538.1,511.8 L535.7,513.6 L533.3,515.4 L530.9,517.2 L528.5,519.0 L526.1,520.8 L523.7,522.6 L521.2,524.3 L518.8,526.1 L516.4,527.8 L513.9,529.6 L511.5,531.3 L509.0,533.1 L506.6,534.8 L504.2,536.6 L501.8,538.4 L499.4,540.2 L497.0,542.0 L494.7,543.9 L492.3,545.7 L490.0,547.6 L487.6,549.5 L485.3,551.3 L482.9,553.2 L480.5,555.1 L478.2,556.9 L475.8,558.7 L473.4,560.5 L471.0,562.4 L468.6,564.1 L466.2,565.9 L463.7,567.7 L461.3,569.4 L458.8,571.1 L456.4,572.8 L453.9,574.5 L451.4,576.1 L448.8,577.7 L446.3,579.3 L443.7,580.9 L441.1,582.3 L438.5,583.7 L435.8,585.1 L433.1,586.3 L430.4,587.3 L427.6,588.3 L424.7,589.0 L421.8,589.6 L418.9,590.1 L416.0,590.3 L413.1,590.4 L410.1,590.3 L407.2,590.0 L404.3,589.6 L401.4,589.0 L398.5,588.3 L395.7,587.4 L392.9,586.4 L390.1,585.3 L387.4,584.1 L384.7,582.8 L382.1,581.4 L379.4,579.9 L376.9,578.4 L374.3,576.8 L371.8,575.2 L369.3,573.5 L366.9,571.8 L364.4,570.1 L362.0,568.4 L359.5,566.6 L357.1,564.9 L354.6,563.2 L352.1,561.5 L349.6,559.9 L347.1,558.3 L344.5,556.7 L341.9,555.3 L339.3,553.9 L336.6,552.5 L333.9,551.2 L331.2,550.0 L328.5,548.8 L325.7,547.6" stroke="#2176AE" stroke-width="5.0"/>
<path d="M325.7,547.6 L325.8,544.6 L326.0,541.6 L326.1,538.6 L326.3,535.6 L326.4,532.6 L326.6,529.6 L326.8,526.6 L327.0,523.6 L327.2,520.6 L327.5,517.6 L327.8,514.7 L328.1,511.7 L328.5,508.7 L328.9,505.7 L329.4,502.8 L329.9,499.8 L330.5,496.9 L331.1,493.9 L331.7,491.0 L332.4,488.1 L333.1,485.2 L333.8,482.3 L334.6,479.3 L335.3,476.4 L336.1,473.5 L336.9,470.6 L337.7,467.7 L338.5,464.9 L339.3,462.0 L340.1,459.1 L341.0,456.2 L341.8,453.3 L342.7,450.4 L343.5,447.6 L344.4,444.7 L345.3,441.8 L346.3,439.0 L347.2,436.1 L348.2,433.3 L349.2,430.5 L350.2,427.7 L351.3,424.8 L352.3,422.0 L353.4,419.2 L354.5,416.5 L355.7,413.7 L356.8,410.9 L358.0,408.1 L359.2,405.4 L360.5,402.7 L361.7,400.0 L363.1,397.3 L364.4,394.6 L365.9,392.0 L367.4,389.4 L368.9,386.8 L370.5,384.3 L372.2,381.8 L374.0,379.4 L375.8,377.1 L377.7,374.7 L379.6,372.5 L381.6,370.2 L383.7,368.0 L385.8,365.9 L387.9,363.8 L390.1,361.7 L392.3,359.7 L394.5,357.7 L396.7,355.7 L399.0,353.8 L401.3,351.8 L403.7,350.0 L406.0,348.1 L408.4,346.3 L410.8,344.5 L413.2,342.7 L415.6,340.9 L418.1,339.2 L420.6,337.5 L423.1,335.9 L425.6,334.3 L428.1,332.7 L430.7,331.1 L433.3,329.5 L435.8,328.0 L438.4,326.5 L441.0,325.0 L443.7,323.5 L446.3,322.1 L448.9,320.6 L451.6,319.2 L454.2,317.8 L456.9,316.5 L459.6,315.1 L462.3,313.8 L465.0,312.6 L467.8,311.3 L470.5,310.1 L473.3,308.9 L476.0,307.8 L478.8,306.7 L481.6,305.6 L484.4,304.6 L487.3,303.6 L490.1,302.7 L493.0,301.8 L495.9,300.9 L498.7,300.1 L501.6,299.3 L504.5,298.5 L507.4,297.7 L510.3,297.0 L513.3,296.3 L516.2,295.6 L519.1,294.9 L522.0,294.2 L525.0,293.6 L527.9,292.9 L530.8,292.3 L533.8,291.7 L536.7,291.1 L539.6,290.5 L542.6,289.9 L545.5,289.4 L548.5,288.8 L551.4,288.3 L554.4,287.8 L557.4,287.3 L560.3,286.8 L563.3,286.4 L566.3,285.9 L569.2,285.5 L572.2,285.1 L575.2,284.7 L578.2,284.3 L581.1,283.9 L584.1,283.6 L587.1,283.2 L590.1,282.9 L593.1,282.6 L596.1,282.3 L599.0,282.0 L602.0,281.7 L605.0,281.4 L608.0,281.1 L611.0,280.8 L614.0,280.5 L617.0,280.2 L620.0,279.9 L623.0,279.7 L625.9,279.4 L628.9,279.1 L631.9,278.8 L634.9,278.6 L637.9,278.3 L640.9,278.0 L643.9,277.8 L646.9,277.5 L649.9,277.3 L652.9,277.0 L655.9,276.8 L658.8,276.5 L661.8,276.3 L664.8,276.1 L667.8,275.8 L670.8,275.6 L673.8,275.4 L676.8,275.2 L679.8,274.9 L682.8,274.7 L685.8,274.5 L688.8,274.3 L691.8,274.1 L694.8,273.9 L697.8,273.7 L700.8,273.5 L703.8,273.3 L706.8,273.1 L709.8,272.9 L712.8,272.7 L715.7,272.6 L718.7,272.4 L721.7,272.2 L724.7,272.1 L727.7,271.9 L730.7,271.7 L733.7,271.6 L736.7,271.4 L739.7,271.2 L742.7,271.0 L745.7,270.8 L748.7,270.5 L751.7,270.3 L754.7,270.1 L757.7,269.8 L760.7,269.5 L763.7,269.2 L766.7,268.9 L769.6,268.7 L772.6,268.4 L775.6,268.0 L778.6,267.7 L781.6,267.4 L784.6,267.1 L787.6,266.8 L790.5,266.5 L793.5,266.2 L796.5,265.8 L799.5,265.5 L802.5,265.2 L805.5,264.9 L808.5,264.6 L811.4,264.2 L814.4,263.9 L817.4,263.6 L820.4,263.3 L823.4,263.0 L826.4,262.6 L829.4,262.3 L832.3,262.0 L835.3,261.7 L838.3,261.4 L841.3,261.1 L844.3,260.9 L847.3,260.6 L850.3,260.3 L853.3,260.0 L856.2,259.8 L859.2,259.5 L862.2,259.2 L865.2,259.0 L868.2,258.7 L871.2,258.5 L874.2,258.2 L877.2,258.0 L880.2,257.7 L883.2,257.5 L886.2,257.2 L889.2,257.0 L892.2,256.7 L895.1,256.5 L898.1,256.3 L901.1,256.0 L904.1,255.8 L907.1,255.6 L910.1,255.3 L913.1,255.1 L916.1,254.9 L919.1,254.7 L922.1,254.5 L925.1,254.2 L928.1,254.0 L931.1,253.8 L934.1,253.6 L937.1,253.5 L940.1,253.3 L943.1,253.1 L946.1,252.9 L949.1,252.7 L952.0,252.5 L955.0,252.4 L958.0,252.2 L961.0,252.0 L964.0,251.9 L967.0,251.7 L970.0,251.5 L973.0,251.3 L976.0,251.2 L979.0,251.0 L982.0,250.8 L985.0,250.6 L988.0,250.4 L991.0,250.3 L994.0,250.1 L997.0,249.9 L1000.0,249.7 L1003.0,249.6 L1004.0,249.5" stroke="#2176AE" stroke-width="5.0"/>
<path d="M1004.0,252.0 L1007.0,252.0 L1010.0,252.0 L1013.0,252.0 L1016.0,252.0 L1019.0,252.0 L1022.0,252.0 L1025.0,252.1 L1028.0,252.1 L1031.0,252.1 L1034.0,252.1 L1037.0,252.2 L1040.0,252.2 L1043.0,252.3 L1046.0,252.4 L1049.0,252.4 L1052.0,252.5 L1055.0,252.6 L1058.0,252.7 L1061.0,252.8 L1064.0,252.9 L1067.0,253.0 L1070.0,253.1 L1073.0,253.2 L1076.0,253.3 L1079.0,253.4 L1082.0,253.5 L1085.0,253.6 L1088.0,253.7 L1091.0,253.8 L1094.0,253.9 L1097.1,254.0 L1100.1,254.1 L1103.1,254.2 L1106.1,254.3 L1109.1,254.4 L1112.1,254.5 L1115.1,254.7 L1118.1,254.8 L1121.1,254.9 L1124.1,255.0 L1127.1,255.1 L1130.1,255.2 L1133.1,255.3 L1136.1,255.5 L1139.1,255.6 L1142.1,255.7 L1145.1,255.8 L1148.1,255.9 L1151.1,256.0 L1154.1,256.2 L1157.1,256.3 L1160.1,256.4 L1163.1,256.5 L1166.1,256.6 L1169.1,256.8 L1172.1,256.9 L1175.1,257.0 L1178.1,257.1 L1181.1,257.2 L1184.1,257.4 L1187.1,257.5 L1190.1,257.6 L1193.1,257.7 L1196.1,257.8 L1199.1,258.0 L1202.1,258.1 L1205.1,258.2 L1208.1,258.3 L1211.1,258.5 L1214.1,258.6 L1217.1,258.7 L1220.1,258.8 L1223.1,259.0 L1226.1,259.1 L1229.1,259.2 L1232.1,259.4 L1235.1,259.5 L1238.1,259.6 L1241.1,259.8 L1244.1,259.9 L1247.1,260.0 L1250.1,260.2 L1253.1,260.3 L1256.1,260.5 L1259.1,260.6 L1262.1,260.7 L1265.1,260.9 L1268.1,261.0 L1271.1,261.2 L1274.1,261.3 L1277.1,261.4 L1280.1,261.6 L1283.0,261.7 L1286.0,261.9 L1289.0,262.0 L1292.0,262.1 L1295.0,262.3 L1298.0,262.4 L1301.0,262.5 L1304.0,262.7 L1307.0,262.8 L1310.0,262.9 L1313.0,263.1 L1316.0,263.2 L1319.0,263.3 L1322.0,263.5 L1325.0,263.6 L1328.0,263.7 L1331.0,263.9 L1334.0,264.0 L1337.0,264.1 L1340.0,264.2 L1343.0,264.3 L1346.0,264.5 L1349.0,264.6 L1352.0,264.7 L1355.0,264.8 L1358.0,264.9 L1361.0,265.0 L1364.0,265.1 L1367.0,265.2 L1370.0,265.4 L1373.0,265.5 L1376.1,265.6 L1379.1,265.7 L1382.1,265.8 L1385.1,265.9 L1388.1,266.0 L1391.1,266.1 L1394.1,266.2 L1397.1,266.3 L1400.1,266.4 L1403.1,266.5 L1406.1,266.6 L1409.1,266.7 L1412.1,266.8 L1415.1,266.9 L1418.1,267.0 L1421.1,267.1 L1424.1,267.2 L1427.1,267.2 L1430.1,267.3 L1433.1,267.4 L1436.1,267.5 L1439.1,267.6 L1442.1,267.7 L1445.1,267.8 L1448.1,267.8 L1451.1,267.9 L1454.1,268.0 L1457.1,268.1 L1460.1,268.1 L1463.1,268.2 L1466.1,268.3 L1469.1,268.4 L1472.1,268.4 L1475.1,268.5 L1478.1,268.5 L1481.1,268.6 L1484.1,268.6 L1487.1,268.7 L1490.1,268.7 L1493.1,268.8 L1496.1,268.8 L1499.1,268.9 L1502.1,268.9 L1505.1,269.0 L1508.1,269.0 L1511.1,269.0 L1514.1,269.1 L1517.1,269.1 L1520.1,269.2 L1523.1,269.2 L1526.1,269.2 L1529.1,269.3 L1532.1,269.3 L1535.1,269.3 L1538.1,269.3 L1541.1,269.4 L1544.1,269.4 L1547.1,269.4 L1550.2,269.4 L1553.2,269.4 L1556.2,269.4 L1559.2,269.4 L1562.2,269.4 L1565.2,269.4 L1568.2,269.4 L1571.2,269.3 L1574.2,269.3 L1577.2,269.2 L1580.2,269.2 L1583.2,269.1 L1586.2,269.0 L1589.2,268.9 L1592.2,268.8 L1595.2,268.6 L1598.2,268.5 L1601.2,268.3 L1604.2,268.1 L1607.2,267.9 L1610.1,267.7 L1613.1,267.4 L1616.1,267.1 L1619.1,266.8 L1622.1,266.5 L1625.1,266.1 L1628.1,265.8 L1631.0,265.4 L1634.0,265.1 L1637.0,264.7 L1640.0,264.3 L1643.0,263.9 L1645.9,263.5 L1648.9,263.1 L1651.9,262.7 L1654.9,262.3 L1657.8,261.9 L1660.8,261.5 L1663.8,261.1 L1666.8,260.7 L1669.7,260.3 L1672.7,259.9 L1675.7,259.4 L1678.7,259.0 L1681.6,258.6 L1684.6,258.2 L1687.6,257.7 L1690.5,257.3 L1693.5,256.9 L1696.5,256.5 L1699.5,256.1 L1702.4,255.7 L1705.4,255.3 L1708.4,254.9 L1711.4,254.5 L1714.4,254.2 L1717.3,253.8 L1720.3,253.4 L1723.3,253.1 L1726.3,252.7 L1729.3,252.3 L1732.2,252.0 L1735.2,251.6 L1738.2,251.3 L1741.2,251.0 L1744.2,250.7 L1747.2,250.3 L1750.1,250.0 L1753.1,249.7 L1756.1,249.5 L1759.1,249.2 L1762.1,248.9 L1765.1,248.7 L1768.1,248.4 L1771.1,248.2 L1774.1,247.9 L1777.1,247.7 L1780.1,247.5 L1783.1,247.2 L1786.0,247.0 L1789.0,246.8 L1792.0,246.6 L1795.0,246.4 L1798.0,246.2 L1801.0,246.0 L1804.0,245.8 L1807.0,245.6 L1810.0,245.4 L1813.0,245.2 L1816.0,245.0 L1819.0,244.9 L1822.0,244.7 L1825.0,244.5 L1828.0,244.4 L1829.0,244.3" stroke="#76A83E" stroke-width="5.0"/>
<path d="M1829.0,244.3 L1827.3,246.5 L1825.5,248.6 L1823.6,250.6 L1821.5,252.5 L1819.3,254.2 L1816.9,255.6 L1814.3,256.9 L1811.6,258.0 L1808.9,258.9 L1806.0,259.6 L1803.1,260.2 L1800.2,260.8 L1797.2,261.2 L1794.3,261.7 L1791.3,262.0 L1788.3,262.4 L1785.4,262.7 L1782.4,263.0 L1779.4,263.3 L1776.4,263.6 L1773.4,263.9 L1770.4,264.2 L1767.4,264.4 L1764.5,264.7 L1761.5,265.0 L1758.5,265.2 L1755.5,265.5 L1752.5,265.7 L1749.5,265.9 L1746.5,266.2 L1743.5,266.4 L1740.5,266.6 L1737.5,266.9 L1734.5,267.1 L1731.6,267.3 L1728.6,267.5 L1725.6,267.7 L1722.6,268.0 L1719.6,268.2 L1716.6,268.4 L1713.6,268.6 L1710.6,268.8 L1707.6,269.0 L1704.6,269.2 L1701.6,269.4 L1698.6,269.7 L1695.6,269.9 L1692.7,270.1 L1689.7,270.3 L1686.7,270.5 L1683.7,270.7 L1680.7,270.9 L1677.7,271.1 L1674.7,271.3 L1671.7,271.5 L1668.7,271.7 L1665.7,271.9 L1662.7,272.1 L1659.7,272.3 L1656.7,272.5 L1653.7,272.6 L1650.7,272.8 L1647.7,273.0 L1644.8,273.2 L1641.8,273.4 L1638.8,273.6 L1635.8,273.8 L1632.8,273.9 L1629.8,274.1 L1626.8,274.3 L1623.8,274.5 L1620.8,274.7 L1617.8,274.9 L1614.8,275.1 L1611.8,275.2 L1608.8,275.4 L1605.8,275.6 L1602.8,275.8 L1599.8,276.0 L1596.8,276.2 L1593.9,276.5 L1590.9,276.7 L1587.9,276.9 L1584.9,277.1 L1581.9,277.3 L1578.9,277.6 L1575.9,277.8 L1572.9,278.1 L1569.9,278.3 L1566.9,278.5 L1563.9,278.8 L1561.0,279.0 L1558.0,279.2 L1555.0,279.5 L1552.0,279.7 L1549.0,279.9 L1546.0,280.2 L1543.0,280.4 L1540.0,280.6 L1537.0,280.8 L1534.0,281.0 L1531.0,281.2 L1528.0,281.4 L1525.1,281.6 L1522.1,281.8 L1519.1,282.0 L1516.1,282.2 L1513.1,282.3 L1510.1,282.5 L1507.1,282.6 L1504.1,282.8 L1501.1,282.9 L1498.1,283.0 L1495.1,283.1 L1492.1,283.2 L1489.1,283.3 L1486.1,283.4 L1483.1,283.5 L1480.1,283.6 L1477.1,283.7 L1474.1,283.7 L1471.1,283.8 L1468.1,283.9 L1465.1,283.9 L1462.1,284.0 L1459.1,284.0 L1456.1,284.0 L1453.1,284.1 L1450.1,284.1 L1447.1,284.1 L1444.1,284.2 L1441.1,284.2 L1438.1,284.2 L1435.1,284.2 L1432.1,284.3 L1429.1,284.3 L1426.1,284.3 L1423.1,284.3 L1420.1,284.3 L1417.1,284.3 L1414.1,284.3 L1411.1,284.4 L1408.1,284.4 L1405.1,284.4 L1402.1,284.4 L1399.1,284.4 L1396.1,284.4 L1393.1,284.4 L1390.1,284.4 L1387.1,284.5 L1384.1,284.5 L1381.1,284.5 L1378.1,284.5 L1375.1,284.5 L1372.1,284.6 L1369.1,284.6 L1366.1,284.6 L1363.1,284.7 L1360.1,284.7 L1357.1,284.7 L1354.1,284.8 L1351.1,284.8 L1348.1,284.9 L1345.1,284.9 L1342.1,285.0 L1339.1,285.0 L1336.1,285.1 L1333.1,285.2 L1330.1,285.3 L1327.1,285.3 L1324.1,285.4 L1321.1,285.5 L1318.1,285.6 L1315.1,285.7 L1312.1,285.8 L1309.1,285.9 L1306.1,286.0 L1303.1,286.0 L1300.1,286.1 L1297.1,286.2 L1294.1,286.4 L1291.1,286.5 L1288.1,286.6 L1285.1,286.7 L1282.1,286.8 L1279.1,286.9 L1276.1,287.0 L1273.1,287.1 L1270.1,287.2 L1267.1,287.3 L1264.1,287.4 L1261.1,287.5 L1258.1,287.6 L1255.1,287.7 L1252.2,287.8 L1249.2,287.9 L1246.2,288.0 L1243.2,288.1 L1240.2,288.2 L1237.2,288.3 L1234.2,288.4 L1231.2,288.5 L1228.2,288.6 L1225.2,288.6 L1222.2,288.7 L1219.2,288.8 L1216.2,288.9 L1213.2,288.9 L1210.2,289.0 L1207.2,289.1 L1204.2,289.1 L1201.2,289.2 L1198.2,289.2 L1195.2,289.3 L1192.2,289.3 L1189.2,289.4 L1186.2,289.4 L1183.2,289.4 L1180.2,289.5 L1177.2,289.5 L1174.2,289.5 L1171.2,289.6 L1168.2,289.6 L1165.2,289.6 L1162.2,289.7 L1159.2,289.7 L1156.2,289.7 L1153.2,289.7 L1150.2,289.8 L1147.2,289.8 L1144.2,289.8 L1141.2,289.8 L1138.2,289.8 L1135.2,289.9 L1132.2,289.9 L1129.2,289.9 L1126.2,289.9 L1123.2,289.9 L1120.2,290.0 L1117.2,290.0 L1114.2,290.0 L1111.2,290.0 L1108.2,290.0 L1105.2,290.1 L1102.2,290.1 L1099.2,290.1 L1096.2,290.1 L1093.2,290.2 L1090.2,290.2 L1087.2,290.2 L1084.2,290.3 L1081.2,290.3 L1078.2,290.3 L1075.2,290.4 L1072.2,290.4 L1069.2,290.5 L1066.2,290.5 L1063.2,290.6 L1060.2,290.6 L1057.2,290.7 L1054.2,290.7 L1051.2,290.8 L1048.2,290.8 L1045.2,290.9 L1042.2,291.0 L1039.2,291.0 L1036.2,291.1 L1033.2,291.2 L1030.2,291.3 L1027.2,291.3 L1024.2,291.4 L1021.2,291.5 L1018.2,291.6 L1015.2,291.7 L1012.2,291.8 L1009.2,291.9 L1006.2,292.0 L1003.2,292.1 L1000.2,292.2 L997.2,292.3 L994.2,292.3 L991.2,292.4 L988.2,292.6 L985.2,292.7 L982.2,292.8 L979.2,292.9 L976.2,293.0 L973.2,293.1 L970.2,293.2 L967.2,293.3 L964.2,293.4 L961.2,293.5 L958.2,293.6 L955.2,293.7 L952.2,293.9 L949.2,294.0 L946.2,294.1 L943.2,294.2 L940.2,294.3 L937.2,294.4 L934.2,294.6 L931.2,294.7 L928.2,294.8 L925.2,294.9 L922.2,295.1 L919.3,295.2 L916.3,295.3 L913.3,295.4 L910.3,295.6 L907.3,295.7 L904.3,295.8 L901.3,295.9 L898.3,296.1 L895.3,296.2 L892.3,296.3 L889.3,296.5 L886.3,296.6 L883.3,296.7 L880.3,296.9 L877.3,297.0 L874.3,297.1 L871.3,297.3 L868.3,297.4 L865.3,297.6 L862.3,297.7 L859.3,297.9 L856.3,298.0 L853.3,298.2 L850.3,298.4 L847.3,298.5 L844.3,298.7 L841.3,298.9 L838.3,299.0 L835.3,299.2 L832.4,299.3 L829.4,299.5 L826.4,299.7 L823.4,299.8 L820.4,299.9 L817.4,300.1 L814.4,300.2 L811.4,300.3 L808.4,300.4 L805.4,300.5 L802.4,300.6 L799.4,300.7 L796.4,300.8 L793.4,300.9 L790.4,301.0 L787.4,301.1 L784.4,301.2 L781.4,301.3 L778.4,301.4 L775.4,301.5 L772.4,301.6 L769.4,301.8 L766.4,301.9 L763.4,302.0 L760.4,302.2 L757.4,302.4 L754.4,302.6 L751.4,302.8 L748.4,303.1 L745.5,303.3 L742.5,303.7 L739.5,304.0 L736.5,304.4 L733.6,304.8 L730.6,305.3 L727.7,305.8 L724.7,306.4 L721.8,307.0 L718.8,307.6 L715.9,308.3 L713.0,309.0 L710.1,309.7 L707.2,310.5 L704.3,311.3 L701.4,312.1 L698.6,313.0 L695.8,314.0 L693.0,315.0 L690.2,316.2 L687.5,317.4 L684.8,318.7 L682.2,320.1 L679.6,321.5 L677.0,323.1 L674.5,324.7 L672.1,326.4 L669.7,328.2 L667.3,330.0 L665.0,331.9 L662.8,333.9 L660.6,335.9 L658.5,338.1 L656.5,340.2 L654.5,342.5 L652.6,344.8 L650.8,347.1 L649.0,349.5 L647.2,352.0 L645.5,354.4 L643.9,356.9 L642.2,359.5 L640.7,362.0 L639.1,364.6 L637.6,367.1 L636.1,369.7 L634.6,372.3 L633.1,375.0 L631.7,377.6 L630.3,380.2 L628.9,382.9 L627.5,385.6 L626.1,388.2 L624.8,390.9 L623.5,393.6 L622.2,396.3 L620.9,399.0 L619.7,401.8 L618.5,404.5 L617.3,407.3 L616.2,410.0 L615.0,412.8 L613.9,415.6 L612.8,418.4 L611.8,421.2 L610.7,424.0 L609.6,426.8 L608.5,429.6 L607.4,432.4 L606.3,435.1 L605.1,437.9 L604.0,440.7 L602.8,443.5 L601.6,446.2 L600.4,449.0 L599.2,451.7 L597.9,454.4 L596.6,457.1 L595.3,459.8 L594.0,462.5 L592.6,465.1 L591.1,467.7 L589.6,470.3 L588.0,472.8 L586.3,475.2 L584.5,477.6 L582.7,479.9 L580.7,482.1 L578.7,484.3 L576.6,486.4 L574.5,488.5 L572.4,490.7 L570.3,492.8 L568.2,494.9 L566.1,497.0 L564.0,499.2 L561.9,501.3 L559.8,503.5 L557.7,505.6 L555.6,507.7 L553.5,509.9 L551.4,512.0 L549.3,514.2 L547.2,516.3 L545.1,518.4 L543.0,520.6 L540.9,522.7 L538.8,524.9 L536.7,527.0 L534.6,529.2 L532.5,531.3 L530.4,533.4 L528.3,535.6 L526.2,537.7 L524.1,539.9 L522.0,542.0 L519.9,544.1 L517.8,546.3 L515.7,548.4 L513.6,550.6 L511.5,552.7 L509.4,554.9 L507.3,557.1 L505.3,559.2 L503.2,561.4 L501.2,563.6 L499.1,565.8 L497.1,568.0 L495.1,570.2 L493.0,572.5 L491.0,574.7 L489.0,576.9 L487.1,579.2 L485.1,581.4 L483.1,583.7 L481.2,586.0 L479.2,588.3 L477.3,590.6 L475.4,592.9 L473.5,595.2 L471.6,597.5 L469.6,599.8 L467.7,602.1 L465.7,604.3 L463.7,606.5 L461.6,608.7 L459.5,610.8 L457.4,612.9 L455.2,615.0 L453.0,617.0 L450.7,618.9 L448.5,620.9 L446.2,622.9 L443.9,624.8 L441.7,626.8 L439.4,628.7 L437.1,630.7 L434.9,632.6 L432.6,634.5 L430.2,636.3 L427.8,637.9 L425.3,639.5 L422.7,640.9 L420.1,642.2 L417.4,643.4 L414.6,644.5 L411.8,645.5 L409.0,646.5 L406.2,647.3 L403.4,647.9 L400.5,648.4 L397.7,648.7 L394.8,648.7 L391.9,648.5 L389.1,648.0 L386.3,647.3 L383.5,646.4 L380.8,645.3 L378.1,644.1 L375.5,642.7 L373.0,641.1 L370.5,639.5 L368.1,637.8 L365.7,636.0 L363.4,634.1 L361.1,632.2 L358.8,630.2 L356.6,628.2 L354.4,626.2 L352.2,624.2 L350.0,622.1 L347.8,620.1 L345.5,618.1 L343.3,616.1 L341.0,614.2 L338.7,612.3 L336.4,610.4 L334.0,608.6 L331.6,606.7 L329.2,605.0 L326.8,603.2 L324.3,601.5 L321.9,599.7 L319.4,598.0 L316.9,596.3 L315.3,595.2" stroke="#76A83E" stroke-width="5.0"/>
<path d="M315.3,595.2 L315.7,592.2 L316.2,589.3 L316.6,586.3 L317.0,583.3 L317.5,580.4 L317.9,577.4 L318.4,574.4 L318.8,571.4 L319.2,568.5 L319.7,565.5 L320.1,562.5 L320.5,559.6 L320.9,556.6 L321.4,553.6 L321.8,550.6 L322.2,547.7 L322.6,544.7 L323.0,541.7 L323.4,538.7 L323.8,535.8 L324.1,532.8 L324.5,529.8 L324.9,526.8 L325.3,523.9 L325.7,520.9 L326.2,517.9 L326.6,515.0 L327.1,512.0 L327.6,509.0 L328.1,506.1 L328.6,503.1 L329.2,500.2 L329.8,497.2 L330.4,494.3 L331.0,491.4 L331.7,488.4 L332.4,485.5 L333.1,482.6 L333.8,479.7 L334.5,476.8 L335.2,473.9 L336.0,470.9 L336.7,468.0 L337.5,465.1 L338.3,462.2 L339.1,459.4 L339.9,456.5 L340.7,453.6 L341.5,450.7 L342.4,447.8 L343.2,444.9 L344.1,442.1 L345.0,439.2 L345.9,436.3 L346.8,433.5 L347.8,430.6 L348.8,427.8 L349.8,425.0 L350.9,422.2 L351.9,419.4 L353.0,416.6 L354.2,413.8 L355.3,411.0 L356.5,408.3 L357.7,405.5 L358.9,402.8 L360.2,400.1 L361.5,397.4 L362.8,394.7 L364.2,392.0 L365.7,389.4 L367.2,386.8 L368.7,384.3 L370.4,381.8 L372.0,379.3 L373.8,376.9 L375.6,374.5 L377.5,372.2 L379.4,369.9 L381.4,367.7 L383.5,365.5 L385.6,363.3 L387.7,361.2 L389.9,359.2 L392.1,357.2 L394.3,355.2 L396.6,353.2 L398.9,351.3 L401.2,349.4 L403.6,347.5 L405.9,345.7 L408.3,343.9 L410.7,342.1 L413.2,340.3 L415.6,338.6 L418.1,336.9 L420.6,335.3 L423.1,333.6 L425.7,332.0 L428.2,330.5 L430.8,328.9 L433.4,327.4 L436.0,325.9 L438.6,324.4 L441.2,323.0 L443.8,321.5 L446.5,320.1 L449.2,318.7 L451.8,317.4 L454.5,316.0 L457.2,314.7 L459.9,313.4 L462.6,312.1 L465.3,310.9 L468.1,309.6 L470.8,308.4 L473.6,307.3 L476.4,306.2 L479.2,305.1 L482.0,304.0 L484.8,303.0 L487.6,302.0 L490.5,301.0 L493.3,300.1 L496.2,299.2 L499.0,298.3 L501.9,297.5 L504.8,296.7 L507.7,295.9 L510.6,295.2 L513.5,294.5 L516.5,293.7 L519.4,293.0 L522.3,292.4 L525.2,291.7 L528.1,291.0 L531.1,290.4 L534.0,289.8 L537.0,289.2 L539.9,288.6 L542.8,288.0 L545.8,287.4 L548.7,286.9 L551.7,286.4 L554.7,285.9 L557.6,285.4 L560.6,284.9 L563.5,284.4 L566.5,284.0 L569.5,283.5 L572.4,283.1 L575.4,282.7 L578.4,282.3 L581.4,281.9 L584.4,281.6 L587.3,281.2 L590.3,280.9 L593.3,280.6 L596.3,280.3 L599.3,280.0 L602.3,279.7 L605.2,279.4 L608.2,279.1 L611.2,278.8 L614.2,278.5 L617.2,278.2 L620.2,277.9 L623.2,277.7 L626.2,277.4 L629.2,277.1 L632.1,276.8 L635.1,276.6 L638.1,276.3 L641.1,276.0 L644.1,275.8 L647.1,275.5 L650.1,275.2 L653.1,275.0 L656.1,274.7 L659.1,274.5 L662.0,274.2 L665.0,274.0 L668.0,273.7 L671.0,273.5 L674.0,273.2 L677.0,273.0 L680.0,272.8 L683.0,272.5 L686.0,272.3 L689.0,272.1 L692.0,271.8 L695.0,271.6 L698.0,271.4 L701.0,271.2 L703.9,271.0 L706.9,270.8 L709.9,270.6 L712.9,270.4 L715.9,270.2 L718.9,270.1 L721.9,269.9 L724.9,269.8 L727.9,269.6 L730.9,269.4 L733.9,269.3 L736.9,269.1 L739.9,268.9 L742.9,268.7 L745.9,268.5 L748.9,268.3 L751.9,268.0 L754.9,267.8 L757.9,267.5 L760.8,267.2 L763.8,266.9 L766.8,266.6 L769.8,266.3 L772.8,266.0 L775.8,265.7 L778.8,265.3 L781.7,265.0 L784.7,264.7 L787.7,264.3 L790.7,264.0 L793.7,263.7 L796.7,263.3 L799.6,263.0 L802.6,262.7 L805.6,262.3 L808.6,262.0 L811.6,261.7 L814.6,261.3 L817.5,261.0 L820.5,260.7 L823.5,260.3 L826.5,260.0 L829.5,259.7 L832.5,259.4 L835.4,259.1 L838.4,258.8 L841.4,258.4 L844.4,258.1 L847.4,257.9 L850.4,257.6 L853.4,257.3 L856.3,257.0 L859.3,256.7 L862.3,256.4 L865.3,256.2 L868.3,255.9 L871.3,255.6 L874.3,255.4 L877.3,255.1 L880.3,254.8 L883.3,254.6 L886.2,254.3 L889.2,254.1 L892.2,253.8 L895.2,253.5 L898.2,253.3 L901.2,253.0 L904.2,252.8 L907.2,252.5 L910.2,252.3 L913.2,252.1 L916.2,251.8 L919.2,251.6 L922.1,251.3 L925.1,251.1 L928.1,250.9 L931.1,250.7 L934.1,250.5 L937.1,250.2 L940.1,250.0 L943.1,249.8 L946.1,249.6 L949.1,249.4 L952.1,249.2 L955.1,249.0 L958.1,248.8 L961.1,248.6 L964.1,248.4 L967.1,248.2 L970.1,248.1 L973.1,247.9 L976.0,247.7 L979.0,247.5 L982.0,247.3 L985.0,247.1 L988.0,246.9 L991.0,246.7 L994.0,246.5 L997.0,246.3 L1000.0,246.1 L1003.0,245.9 L1004.0,245.8" stroke="#76A83E" stroke-width="5.0"/>
<path d="M1004.0,246.5 L1007.0,246.5 L1010.0,246.6 L1013.0,246.6 L1016.0,246.7 L1019.0,246.7 L1022.0,246.8 L1025.0,246.8 L1028.0,246.9 L1031.0,246.9 L1034.0,247.0 L1037.0,247.1 L1040.0,247.1 L1043.0,247.2 L1046.0,247.3 L1049.0,247.4 L1052.0,247.5 L1055.0,247.6 L1058.0,247.7 L1061.0,247.8 L1064.0,247.9 L1067.0,248.0 L1070.0,248.1 L1073.0,248.2 L1076.0,248.3 L1079.0,248.4 L1082.0,248.5 L1085.0,248.6 L1088.0,248.7 L1091.0,248.8 L1094.0,248.9 L1097.0,249.0 L1100.0,249.2 L1103.0,249.3 L1106.0,249.4 L1109.0,249.5 L1112.0,249.6 L1115.0,249.7 L1118.0,249.8 L1121.0,250.0 L1124.0,250.1 L1127.0,250.2 L1130.0,250.3 L1133.0,250.4 L1136.0,250.5 L1139.0,250.7 L1142.0,250.8 L1145.0,250.9 L1147.9,251.0 L1150.9,251.1 L1153.9,251.2 L1156.9,251.3 L1159.9,251.5 L1162.9,251.6 L1165.9,251.7 L1168.9,251.8 L1171.9,251.9 L1174.9,252.0 L1177.9,252.2 L1180.9,252.3 L1183.9,252.4 L1186.9,252.5 L1189.9,252.6 L1192.9,252.7 L1195.9,252.8 L1198.9,253.0 L1201.9,253.1 L1204.9,253.2 L1207.9,253.3 L1210.9,253.4 L1213.9,253.5 L1216.9,253.6 L1219.9,253.7 L1222.9,253.9 L1225.9,254.0 L1228.9,254.1 L1231.9,254.2 L1234.9,254.3 L1237.9,254.4 L1240.9,254.5 L1243.9,254.6 L1246.9,254.8 L1249.9,254.9 L1252.9,255.0 L1255.9,255.1 L1258.9,255.2 L1261.9,255.3 L1264.9,255.4 L1267.9,255.5 L1270.9,255.6 L1273.9,255.8 L1276.9,255.9 L1279.9,256.0 L1282.9,256.1 L1285.9,256.2 L1288.9,256.3 L1291.9,256.4 L1294.9,256.6 L1297.9,256.7 L1300.9,256.8 L1303.9,256.9 L1306.9,257.0 L1309.9,257.1 L1312.9,257.2 L1315.9,257.4 L1318.9,257.5 L1321.9,257.6 L1324.9,257.7 L1327.9,257.8 L1330.8,257.9 L1333.8,258.1 L1336.8,258.2 L1339.8,258.3 L1342.8,258.4 L1345.8,258.5 L1348.8,258.7 L1351.8,258.8 L1354.8,258.9 L1357.8,259.0 L1360.8,259.1 L1363.8,259.3 L1366.8,259.4 L1369.8,259.5 L1372.8,259.7 L1375.8,259.8 L1378.8,259.9 L1381.8,260.1 L1384.8,260.2 L1387.8,260.3 L1390.8,260.5 L1393.8,260.6 L1396.8,260.7 L1399.8,260.9 L1402.8,261.0 L1405.8,261.2 L1408.8,261.3 L1411.8,261.5 L1414.8,261.6 L1417.8,261.7 L1420.8,261.9 L1423.8,262.0 L1426.8,262.2 L1429.8,262.3 L1432.8,262.5 L1435.8,262.6 L1438.8,262.7 L1441.8,262.9 L1444.8,263.0 L1447.8,263.1 L1450.8,263.3 L1453.7,263.4 L1456.7,263.5 L1459.7,263.7 L1462.7,263.8 L1465.7,263.9 L1468.7,264.0 L1471.7,264.2 L1474.7,264.3 L1477.7,264.4 L1480.7,264.5 L1483.7,264.6 L1486.7,264.7 L1489.7,264.8 L1492.7,264.9 L1495.7,265.0 L1498.7,265.0 L1501.7,265.1 L1504.7,265.2 L1507.7,265.3 L1510.7,265.3 L1513.7,265.4 L1516.7,265.4 L1519.7,265.5 L1522.7,265.5 L1525.7,265.6 L1528.7,265.6 L1531.7,265.7 L1534.7,265.7 L1537.7,265.7 L1540.7,265.8 L1543.7,265.8 L1546.7,265.8 L1549.7,265.9 L1552.7,265.9 L1555.7,265.9 L1558.7,265.9 L1561.7,265.9 L1564.7,265.9 L1567.7,265.9 L1570.7,265.9 L1573.7,265.9 L1576.7,265.9 L1579.7,265.9 L1582.7,265.9 L1585.7,265.9 L1588.7,265.9 L1591.7,265.9 L1594.7,265.9 L1597.7,265.9 L1600.7,265.9 L1603.7,265.9 L1606.7,265.9 L1609.7,265.8 L1612.7,265.8 L1615.7,265.8 L1618.7,265.7 L1621.7,265.7 L1624.7,265.7 L1627.7,265.6 L1630.7,265.6 L1633.7,265.5 L1636.7,265.4 L1639.7,265.3 L1642.7,265.2 L1645.7,265.1 L1648.7,265.0 L1651.7,264.9 L1654.7,264.7 L1657.7,264.6 L1660.7,264.4 L1663.7,264.2 L1666.7,264.0 L1669.7,263.9 L1672.7,263.7 L1675.7,263.4 L1678.7,263.2 L1681.7,263.0 L1684.7,262.8 L1687.7,262.5 L1690.6,262.3 L1693.6,262.0 L1696.6,261.8 L1699.6,261.5 L1702.6,261.2 L1705.6,260.9 L1708.6,260.6 L1711.6,260.3 L1714.5,260.0 L1717.5,259.7 L1720.5,259.3 L1723.5,259.0 L1726.5,258.7 L1729.4,258.3 L1732.4,258.0 L1735.4,257.6 L1738.4,257.3 L1741.4,257.0 L1744.4,256.6 L1747.3,256.3 L1750.3,256.0 L1753.3,255.7 L1756.3,255.4 L1759.3,255.0 L1762.3,254.7 L1765.2,254.4 L1768.2,254.1 L1771.2,253.8 L1774.2,253.5 L1777.2,253.2 L1780.2,252.9 L1783.2,252.6 L1786.1,252.3 L1789.1,252.0 L1792.1,251.8 L1795.1,251.5 L1798.1,251.2 L1801.1,251.0 L1804.1,250.7 L1807.1,250.5 L1810.0,250.2 L1813.0,250.0 L1816.0,249.8 L1819.0,249.5 L1822.0,249.3 L1825.0,249.1 L1828.0,248.9 L1829.0,248.8" stroke="#E00B0B" stroke-width="5.0"/>
<path d="M1829.0,248.8 L1826.9,250.6 L1824.7,252.3 L1822.4,253.9 L1820.0,255.4 L1817.4,256.7 L1814.8,257.9 L1812.1,258.9 L1809.3,259.8 L1806.4,260.6 L1803.6,261.3 L1800.6,261.8 L1797.7,262.3 L1794.7,262.8 L1791.8,263.2 L1788.8,263.6 L1785.8,264.0 L1782.8,264.3 L1779.8,264.7 L1776.9,265.0 L1773.9,265.3 L1770.9,265.6 L1767.9,265.9 L1764.9,266.2 L1761.9,266.4 L1758.9,266.7 L1755.9,267.0 L1753.0,267.2 L1750.0,267.5 L1747.0,267.7 L1744.0,268.0 L1741.0,268.2 L1738.0,268.4 L1735.0,268.6 L1732.0,268.9 L1729.0,269.1 L1726.0,269.3 L1723.0,269.5 L1720.0,269.7 L1717.0,269.9 L1714.0,270.1 L1711.1,270.3 L1708.1,270.5 L1705.1,270.7 L1702.1,270.9 L1699.1,271.1 L1696.1,271.2 L1693.1,271.4 L1690.1,271.6 L1687.1,271.8 L1684.1,272.0 L1681.1,272.2 L1678.1,272.4 L1675.1,272.5 L1672.1,272.7 L1669.1,272.9 L1666.1,273.1 L1663.1,273.3 L1660.1,273.4 L1657.1,273.6 L1654.1,273.8 L1651.1,273.9 L1648.1,274.1 L1645.1,274.2 L1642.1,274.4 L1639.2,274.6 L1636.2,274.7 L1633.2,274.9 L1630.2,275.0 L1627.2,275.2 L1624.2,275.3 L1621.2,275.4 L1618.2,275.6 L1615.2,275.7 L1612.2,275.9 L1609.2,276.0 L1606.2,276.2 L1603.2,276.4 L1600.2,276.5 L1597.2,276.7 L1594.2,276.8 L1591.2,277.0 L1588.2,277.2 L1585.2,277.4 L1582.2,277.5 L1579.2,277.7 L1576.2,277.9 L1573.2,278.1 L1570.2,278.3 L1567.2,278.5 L1564.2,278.6 L1561.2,278.8 L1558.2,279.0 L1555.2,279.2 L1552.3,279.4 L1549.3,279.5 L1546.3,279.7 L1543.3,279.9 L1540.3,280.1 L1537.3,280.2 L1534.3,280.4 L1531.3,280.6 L1528.3,280.7 L1525.3,280.9 L1522.3,281.0 L1519.3,281.2 L1516.3,281.3 L1513.3,281.4 L1510.3,281.6 L1507.3,281.7 L1504.3,281.8 L1501.3,281.9 L1498.3,282.0 L1495.3,282.1 L1492.3,282.2 L1489.3,282.3 L1486.3,282.4 L1483.3,282.5 L1480.3,282.5 L1477.3,282.6 L1474.3,282.7 L1471.3,282.7 L1468.3,282.8 L1465.3,282.9 L1462.3,282.9 L1459.3,283.0 L1456.3,283.0 L1453.3,283.1 L1450.3,283.1 L1447.3,283.2 L1444.3,283.2 L1441.3,283.2 L1438.3,283.3 L1435.3,283.3 L1432.3,283.3 L1429.3,283.4 L1426.3,283.4 L1423.3,283.4 L1420.3,283.5 L1417.3,283.5 L1414.3,283.5 L1411.3,283.6 L1408.3,283.6 L1405.3,283.6 L1402.3,283.7 L1399.3,283.7 L1396.3,283.7 L1393.3,283.7 L1390.3,283.8 L1387.3,283.8 L1384.3,283.8 L1381.3,283.9 L1378.3,283.9 L1375.3,283.9 L1372.3,284.0 L1369.3,284.0 L1366.3,284.1 L1363.3,284.1 L1360.3,284.2 L1357.3,284.2 L1354.3,284.3 L1351.3,284.3 L1348.3,284.4 L1345.3,284.4 L1342.3,284.5 L1339.3,284.5 L1336.3,284.6 L1333.3,284.7 L1330.3,284.7 L1327.3,284.8 L1324.3,284.9 L1321.3,285.0 L1318.3,285.0 L1315.3,285.1 L1312.3,285.2 L1309.3,285.3 L1306.3,285.4 L1303.3,285.5 L1300.3,285.6 L1297.3,285.6 L1294.3,285.7 L1291.3,285.8 L1288.3,285.9 L1285.3,286.0 L1282.3,286.1 L1279.3,286.2 L1276.3,286.3 L1273.3,286.4 L1270.3,286.5 L1267.3,286.6 L1264.3,286.7 L1261.3,286.7 L1258.3,286.8 L1255.3,286.9 L1252.3,287.0 L1249.3,287.1 L1246.3,287.2 L1243.3,287.3 L1240.3,287.3 L1237.3,287.4 L1234.3,287.5 L1231.3,287.6 L1228.3,287.6 L1225.3,287.7 L1222.3,287.8 L1219.3,287.8 L1216.3,287.9 L1213.3,287.9 L1210.3,288.0 L1207.3,288.0 L1204.3,288.1 L1201.3,288.1 L1198.3,288.2 L1195.3,288.2 L1192.3,288.3 L1189.3,288.3 L1186.3,288.3 L1183.3,288.4 L1180.3,288.4 L1177.3,288.4 L1174.3,288.5 L1171.3,288.5 L1168.2,288.5 L1165.2,288.5 L1162.2,288.6 L1159.2,288.6 L1156.2,288.6 L1153.2,288.6 L1150.2,288.6 L1147.2,288.7 L1144.2,288.7 L1141.2,288.7 L1138.2,288.7 L1135.2,288.7 L1132.2,288.7 L1129.2,288.7 L1126.2,288.8 L1123.2,288.8 L1120.2,288.8 L1117.2,288.8 L1114.2,288.8 L1111.2,288.8 L1108.2,288.9 L1105.2,288.9 L1102.2,288.9 L1099.2,288.9 L1096.2,288.9 L1093.2,288.9 L1090.2,289.0 L1087.2,289.0 L1084.2,289.0 L1081.2,289.0 L1078.2,289.1 L1075.2,289.1 L1072.2,289.1 L1069.2,289.1 L1066.2,289.2 L1063.2,289.2 L1060.2,289.2 L1057.2,289.3 L1054.2,289.3 L1051.2,289.3 L1048.2,289.4 L1045.2,289.4 L1042.2,289.5 L1039.2,289.5 L1036.2,289.6 L1033.2,289.6 L1030.2,289.6 L1027.2,289.7 L1024.2,289.7 L1021.2,289.8 L1018.2,289.8 L1015.2,289.9 L1012.2,289.9 L1009.2,289.9 L1006.2,290.0 L1003.2,290.0 L1000.2,290.1 L997.2,290.1 L994.2,290.1 L991.2,290.2 L988.2,290.2 L985.2,290.3 L982.2,290.3 L979.2,290.3 L976.2,290.4 L973.2,290.4 L970.2,290.5 L967.2,290.5 L964.2,290.6 L961.2,290.6 L958.2,290.7 L955.2,290.7 L952.2,290.8 L949.2,290.8 L946.2,290.9 L943.2,290.9 L940.2,291.0 L937.2,291.1 L934.2,291.1 L931.2,291.2 L928.2,291.3 L925.2,291.4 L922.2,291.4 L919.2,291.5 L916.2,291.6 L913.2,291.7 L910.2,291.8 L907.2,291.9 L904.2,292.0 L901.2,292.2 L898.2,292.3 L895.2,292.4 L892.2,292.6 L889.2,292.7 L886.2,292.9 L883.2,293.1 L880.2,293.3 L877.2,293.5 L874.2,293.7 L871.2,294.0 L868.2,294.2 L865.3,294.5 L862.3,294.8 L859.3,295.2 L856.3,295.5 L853.3,295.9 L850.4,296.2 L847.4,296.6 L844.4,297.0 L841.4,297.4 L838.4,297.8 L835.5,298.1 L832.5,298.5 L829.5,298.9 L826.5,299.2 L823.5,299.5 L820.6,299.8 L817.6,300.1 L814.6,300.3 L811.6,300.6 L808.6,300.8 L805.6,301.0 L802.6,301.2 L799.6,301.4 L796.6,301.6 L793.6,301.8 L790.6,302.0 L787.6,302.2 L784.6,302.4 L781.7,302.6 L778.7,302.8 L775.7,303.0 L772.7,303.3 L769.7,303.6 L766.7,303.9 L763.7,304.2 L760.7,304.5 L757.8,304.9 L754.8,305.3 L751.8,305.7 L748.8,306.1 L745.9,306.5 L742.9,306.9 L739.9,307.4 L737.0,307.9 L734.0,308.4 L731.1,309.0 L728.1,309.6 L725.2,310.2 L722.3,310.9 L719.4,311.7 L716.6,312.6 L713.7,313.5 L710.9,314.6 L708.2,315.6 L705.4,316.8 L702.7,318.0 L699.9,319.3 L697.2,320.5 L694.5,321.8 L691.8,323.1 L689.1,324.3 L686.4,325.6 L683.7,326.9 L681.1,328.3 L678.4,329.8 L675.9,331.3 L673.4,332.9 L671.0,334.7 L668.7,336.5 L666.4,338.4 L664.3,340.5 L662.2,342.6 L660.2,344.8 L658.2,347.0 L656.3,349.4 L654.5,351.7 L652.7,354.1 L650.9,356.5 L649.2,359.0 L647.5,361.5 L645.9,364.0 L644.2,366.5 L642.6,369.0 L641.0,371.6 L639.5,374.1 L638.0,376.7 L636.5,379.4 L635.1,382.0 L633.7,384.6 L632.3,387.3 L631.0,390.0 L629.7,392.7 L628.4,395.4 L627.1,398.1 L625.8,400.8 L624.5,403.5 L623.2,406.2 L621.9,408.9 L620.6,411.6 L619.3,414.3 L618.1,417.1 L616.8,419.8 L615.6,422.5 L614.5,425.3 L613.4,428.1 L612.3,430.9 L611.3,433.7 L610.3,436.5 L609.3,439.3 L608.3,442.2 L607.4,445.0 L606.4,447.8 L605.3,450.7 L604.3,453.5 L603.2,456.3 L602.1,459.0 L601.0,461.8 L599.8,464.6 L598.7,467.4 L597.6,470.2 L596.4,472.9 L595.3,475.7 L594.2,478.5 L593.1,481.3 L592.0,484.1 L591.0,486.9 L589.9,489.7 L588.9,492.5 L587.9,495.3 L586.8,498.1 L585.7,500.9 L584.5,503.6 L583.2,506.3 L581.8,508.9 L580.3,511.5 L578.6,514.0 L576.9,516.4 L575.1,518.7 L573.2,521.1 L571.3,523.3 L569.3,525.6 L567.3,527.8 L565.2,530.0 L563.1,532.1 L561.0,534.2 L558.9,536.4 L556.8,538.5 L554.6,540.6 L552.5,542.7 L550.3,544.8 L548.2,546.9 L546.1,549.0 L544.0,551.2 L541.9,553.3 L539.8,555.5 L537.8,557.7 L535.8,559.9 L533.7,562.1 L531.7,564.3 L529.7,566.5 L527.6,568.7 L525.5,570.8 L523.4,572.9 L521.2,575.0 L519.0,577.0 L516.8,579.0 L514.5,581.0 L512.3,583.0 L510.1,585.0 L507.9,587.0 L505.7,589.1 L503.6,591.2 L501.6,593.4 L499.6,595.6 L497.8,597.9 L496.0,600.3 L494.2,602.8 L492.6,605.2 L490.9,607.7 L489.3,610.2 L487.6,612.7 L486.0,615.2 L484.3,617.7 L482.5,620.0 L480.6,622.4 L478.7,624.6 L476.7,626.8 L474.6,628.9 L472.4,630.9 L470.2,632.9 L467.9,634.9 L465.6,636.8 L463.3,638.7 L461.0,640.6 L458.6,642.5 L456.3,644.4 L453.9,646.2 L451.5,648.0 L449.1,649.8 L446.7,651.5 L444.2,653.2 L441.7,654.8 L439.1,656.3 L436.5,657.7 L433.8,659.0 L431.1,660.2 L428.3,661.2 L425.5,662.2 L422.6,663.0 L419.8,663.7 L416.8,664.3 L413.9,664.8 L411.0,665.1 L408.0,665.2 L405.1,665.2 L402.2,665.0 L399.3,664.6 L396.4,664.1 L393.5,663.4 L390.7,662.5 L388.0,661.4 L385.3,660.2 L382.6,658.9 L380.0,657.4 L377.5,655.8 L375.1,654.2 L372.7,652.4 L370.4,650.5 L368.1,648.6 L365.9,646.6 L363.7,644.5 L361.5,642.5 L359.4,640.4 L357.2,638.3 L355.1,636.1 L353.0,634.0 L350.8,631.9 L348.7,629.8 L346.5,627.7 L344.4,625.7 L342.2,623.6 L339.9,621.6 L337.7,619.6 L335.5,617.7 L333.2,615.7 L330.9,613.7 L328.6,611.8 L326.4,609.8 L324.1,607.8 L321.8,605.9 L319.6,603.9 L317.3,601.9 L315.1,600.0 L314.3,599.3" stroke="#E00B0B" stroke-width="5.0"/>
<path d="M314.3,599.3 L314.8,596.3 L315.3,593.4 L315.9,590.4 L316.4,587.5 L316.9,584.5 L317.4,581.6 L317.9,578.6 L318.4,575.7 L318.9,572.7 L319.5,569.7 L319.9,566.8 L320.4,563.8 L320.9,560.9 L321.4,557.9 L321.8,554.9 L322.3,552.0 L322.7,549.0 L323.1,546.0 L323.5,543.1 L323.9,540.1 L324.3,537.1 L324.6,534.1 L325.0,531.1 L325.4,528.2 L325.8,525.2 L326.1,522.2 L326.5,519.3 L327.0,516.3 L327.4,513.3 L327.9,510.4 L328.4,507.4 L328.9,504.4 L329.4,501.5 L330.0,498.5 L330.6,495.6 L331.2,492.7 L331.8,489.7 L332.5,486.8 L333.1,483.9 L333.8,481.0 L334.5,478.0 L335.2,475.1 L335.9,472.2 L336.6,469.3 L337.4,466.4 L338.1,463.5 L338.9,460.6 L339.7,457.7 L340.5,454.8 L341.3,451.9 L342.1,449.0 L342.9,446.1 L343.8,443.3 L344.6,440.4 L345.5,437.5 L346.4,434.7 L347.3,431.8 L348.3,429.0 L349.3,426.1 L350.3,423.3 L351.3,420.5 L352.4,417.7 L353.5,414.9 L354.6,412.1 L355.8,409.4 L357.0,406.6 L358.2,403.9 L359.4,401.1 L360.7,398.4 L362.0,395.7 L363.4,393.1 L364.8,390.4 L366.2,387.8 L367.7,385.2 L369.3,382.7 L370.9,380.2 L372.6,377.7 L374.4,375.3 L376.2,372.9 L378.1,370.6 L380.0,368.3 L382.0,366.1 L384.1,363.9 L386.2,361.8 L388.3,359.7 L390.5,357.6 L392.7,355.6 L394.9,353.6 L397.2,351.7 L399.5,349.7 L401.8,347.8 L404.1,346.0 L406.5,344.1 L408.9,342.3 L411.3,340.5 L413.7,338.8 L416.2,337.1 L418.7,335.4 L421.2,333.7 L423.7,332.1 L426.2,330.5 L428.8,328.9 L431.4,327.4 L433.9,325.9 L436.5,324.4 L439.2,322.9 L441.8,321.4 L444.4,320.0 L447.1,318.6 L449.7,317.2 L452.4,315.8 L455.1,314.5 L457.8,313.2 L460.5,311.9 L463.2,310.6 L465.9,309.4 L468.7,308.2 L471.4,307.0 L474.2,305.8 L476.9,304.7 L479.7,303.6 L482.5,302.5 L485.3,301.4 L488.2,300.4 L491.0,299.5 L493.8,298.5 L496.7,297.6 L499.6,296.7 L502.4,295.8 L505.3,295.0 L508.2,294.2 L511.1,293.4 L514.0,292.7 L516.9,291.9 L519.8,291.2 L522.7,290.5 L525.6,289.8 L528.6,289.1 L531.5,288.5 L534.4,287.8 L537.4,287.2 L540.3,286.6 L543.2,286.0 L546.2,285.5 L549.1,284.9 L552.1,284.4 L555.0,283.9 L558.0,283.4 L561.0,282.9 L563.9,282.4 L566.9,282.0 L569.9,281.5 L572.8,281.1 L575.8,280.7 L578.8,280.3 L581.8,279.9 L584.7,279.6 L587.7,279.2 L590.7,278.9 L593.7,278.6 L596.7,278.3 L599.6,278.0 L602.6,277.7 L605.6,277.4 L608.6,277.1 L611.6,276.8 L614.6,276.5 L617.6,276.2 L620.5,275.9 L623.5,275.6 L626.5,275.4 L629.5,275.1 L632.5,274.8 L635.5,274.5 L638.5,274.3 L641.5,274.0 L644.4,273.7 L647.4,273.5 L650.4,273.2 L653.4,272.9 L656.4,272.7 L659.4,272.4 L662.4,272.1 L665.4,271.9 L668.3,271.6 L671.3,271.4 L674.3,271.1 L677.3,270.8 L680.3,270.6 L683.3,270.3 L686.3,270.1 L689.3,269.8 L692.3,269.6 L695.3,269.4 L698.2,269.1 L701.2,268.9 L704.2,268.7 L707.2,268.5 L710.2,268.3 L713.2,268.1 L716.2,267.9 L719.2,267.7 L722.2,267.6 L725.2,267.4 L728.2,267.3 L731.2,267.1 L734.2,266.9 L737.2,266.8 L740.2,266.6 L743.2,266.4 L746.2,266.2 L749.1,266.0 L752.1,265.7 L755.1,265.5 L758.1,265.2 L761.1,264.9 L764.1,264.6 L767.1,264.3 L770.0,264.0 L773.0,263.6 L776.0,263.3 L779.0,262.9 L782.0,262.6 L784.9,262.2 L787.9,261.9 L790.9,261.5 L793.9,261.2 L796.9,260.8 L799.8,260.5 L802.8,260.1 L805.8,259.8 L808.8,259.4 L811.8,259.1 L814.7,258.8 L817.7,258.4 L820.7,258.1 L823.7,257.7 L826.7,257.4 L829.6,257.1 L832.6,256.7 L835.6,256.4 L838.6,256.1 L841.6,255.8 L844.6,255.4 L847.5,255.1 L850.5,254.8 L853.5,254.5 L856.5,254.2 L859.5,253.9 L862.5,253.7 L865.5,253.4 L868.4,253.1 L871.4,252.8 L874.4,252.5 L877.4,252.2 L880.4,252.0 L883.4,251.7 L886.4,251.4 L889.4,251.1 L892.3,250.9 L895.3,250.6 L898.3,250.3 L901.3,250.1 L904.3,249.8 L907.3,249.5 L910.3,249.3 L913.3,249.0 L916.2,248.7 L919.2,248.5 L922.2,248.2 L925.2,248.0 L928.2,247.8 L931.2,247.5 L934.2,247.3 L937.2,247.0 L940.2,246.8 L943.2,246.6 L946.2,246.4 L949.1,246.1 L952.1,245.9 L955.1,245.7 L958.1,245.5 L961.1,245.3 L964.1,245.0 L967.1,244.8 L970.1,244.6 L973.1,244.4 L976.1,244.2 L979.1,243.9 L982.1,243.7 L985.1,243.5 L988.0,243.3 L991.0,243.1 L994.0,242.8 L997.0,242.6 L1000.0,242.4 L1003.0,242.2 L1004.0,242.1" stroke="#E00B0B" stroke-width="5.0"/>
<path d="M1004.0,241.0 L1007.0,241.0 L1010.0,241.0 L1013.0,241.0 L1016.0,241.0 L1019.0,241.0 L1022.0,241.0 L1025.0,241.0 L1028.0,241.0 L1031.0,241.0 L1034.0,241.1 L1037.0,241.1 L1040.0,241.2 L1043.0,241.2 L1046.0,241.3 L1049.0,241.3 L1052.0,241.4 L1055.0,241.5 L1058.0,241.6 L1061.0,241.7 L1064.0,241.8 L1067.0,241.9 L1070.0,242.0 L1073.0,242.1 L1076.0,242.2 L1079.0,242.3 L1082.0,242.4 L1085.0,242.5 L1088.0,242.6 L1091.0,242.7 L1094.0,242.8 L1097.0,242.9 L1100.0,243.1 L1103.0,243.2 L1106.0,243.3 L1109.0,243.4 L1112.0,243.5 L1115.0,243.6 L1118.0,243.8 L1121.0,243.9 L1124.0,244.0 L1127.0,244.1 L1130.0,244.2 L1133.0,244.4 L1136.0,244.5 L1139.0,244.6 L1142.0,244.7 L1145.0,244.8 L1148.0,245.0 L1151.0,245.1 L1154.0,245.2 L1157.0,245.3 L1160.0,245.4 L1163.0,245.6 L1166.0,245.7 L1169.0,245.8 L1172.0,245.9 L1175.0,246.0 L1178.0,246.1 L1181.0,246.3 L1184.0,246.4 L1187.0,246.5 L1190.0,246.6 L1193.0,246.7 L1196.0,246.8 L1199.0,247.0 L1202.0,247.1 L1205.0,247.2 L1208.0,247.3 L1211.0,247.4 L1214.0,247.5 L1217.0,247.6 L1220.0,247.7 L1223.0,247.9 L1226.0,248.0 L1229.0,248.1 L1232.0,248.2 L1235.0,248.3 L1238.0,248.4 L1241.0,248.5 L1244.0,248.6 L1247.0,248.7 L1250.0,248.8 L1253.0,249.0 L1256.0,249.1 L1259.0,249.2 L1262.0,249.3 L1265.0,249.4 L1268.0,249.5 L1271.0,249.6 L1274.0,249.7 L1277.0,249.8 L1280.0,249.9 L1283.0,250.1 L1286.0,250.2 L1289.0,250.3 L1292.0,250.4 L1295.0,250.5 L1298.0,250.6 L1301.0,250.7 L1304.0,250.9 L1307.0,251.0 L1310.0,251.1 L1313.0,251.2 L1316.0,251.3 L1319.0,251.4 L1322.0,251.5 L1325.0,251.7 L1328.0,251.8 L1331.0,251.9 L1334.0,252.0 L1337.0,252.1 L1340.0,252.3 L1343.0,252.4 L1346.0,252.5 L1349.0,252.6 L1352.0,252.8 L1355.0,252.9 L1358.0,253.0 L1361.0,253.2 L1364.0,253.3 L1367.0,253.4 L1370.0,253.6 L1373.0,253.7 L1376.0,253.8 L1379.0,254.0 L1382.0,254.1 L1385.0,254.3 L1388.0,254.4 L1391.0,254.6 L1394.0,254.7 L1397.0,254.9 L1400.0,255.0 L1403.0,255.2 L1406.0,255.3 L1409.0,255.5 L1412.0,255.7 L1415.0,255.8 L1418.0,256.0 L1421.0,256.1 L1424.0,256.3 L1427.0,256.4 L1430.0,256.6 L1433.0,256.8 L1436.0,256.9 L1439.0,257.1 L1442.0,257.2 L1445.0,257.4 L1448.0,257.5 L1451.0,257.7 L1454.0,257.8 L1457.0,258.0 L1460.0,258.1 L1463.0,258.3 L1466.0,258.4 L1469.0,258.5 L1472.0,258.7 L1475.0,258.8 L1478.0,258.9 L1481.0,259.1 L1484.0,259.2 L1487.0,259.3 L1490.0,259.4 L1493.0,259.5 L1496.0,259.6 L1499.0,259.7 L1502.0,259.8 L1505.0,259.9 L1508.0,260.0 L1511.0,260.1 L1514.0,260.2 L1517.0,260.3 L1520.0,260.4 L1523.0,260.5 L1526.0,260.6 L1529.0,260.6 L1532.0,260.7 L1535.0,260.8 L1538.0,260.9 L1541.0,260.9 L1544.0,261.0 L1547.0,261.0 L1550.0,261.1 L1553.0,261.2 L1556.0,261.2 L1559.0,261.2 L1562.0,261.3 L1565.0,261.3 L1568.0,261.4 L1571.0,261.4 L1574.0,261.4 L1577.0,261.4 L1580.0,261.5 L1583.0,261.5 L1586.0,261.5 L1589.0,261.5 L1592.0,261.5 L1595.0,261.5 L1598.0,261.5 L1601.0,261.5 L1604.0,261.4 L1607.0,261.4 L1610.0,261.4 L1613.0,261.4 L1616.0,261.3 L1619.0,261.3 L1622.0,261.2 L1625.0,261.2 L1628.0,261.1 L1631.0,261.1 L1634.0,261.0 L1637.0,261.0 L1640.0,260.9 L1643.0,260.8 L1646.0,260.7 L1649.0,260.7 L1652.0,260.6 L1655.0,260.5 L1658.0,260.4 L1661.0,260.3 L1664.0,260.2 L1667.0,260.1 L1670.0,260.0 L1673.0,259.9 L1676.0,259.8 L1679.0,259.7 L1682.0,259.6 L1685.0,259.5 L1688.0,259.4 L1691.0,259.3 L1694.0,259.2 L1697.0,259.1 L1700.0,259.0 L1703.0,258.9 L1706.0,258.7 L1709.0,258.6 L1712.0,258.5 L1715.0,258.3 L1718.0,258.2 L1721.0,258.1 L1724.0,257.9 L1727.0,257.8 L1730.0,257.6 L1733.0,257.5 L1736.0,257.3 L1739.0,257.1 L1742.0,257.0 L1745.0,256.8 L1748.0,256.7 L1751.0,256.5 L1754.0,256.3 L1757.0,256.2 L1760.0,256.0 L1763.0,255.9 L1766.0,255.7 L1769.0,255.6 L1772.0,255.4 L1775.0,255.3 L1778.0,255.1 L1781.0,255.0 L1784.0,254.8 L1787.0,254.7 L1790.0,254.6 L1793.0,254.4 L1796.0,254.3 L1799.0,254.2 L1802.0,254.1 L1805.0,254.0 L1808.0,253.8 L1811.0,253.7 L1814.0,253.6 L1817.0,253.5 L1820.0,253.4 L1823.0,253.2 L1826.0,253.1 L1829.0,253.0" stroke="#0396B1" stroke-width="5.0"/>
<path d="M1829.0,253.0 L1827.0,254.7 L1825.0,256.3 L1822.8,257.7 L1820.5,259.1 L1818.0,260.3 L1815.4,261.3 L1812.7,262.3 L1809.9,263.1 L1807.0,263.8 L1804.1,264.5 L1801.2,265.1 L1798.2,265.7 L1795.3,266.2 L1792.3,266.7 L1789.4,267.1 L1786.4,267.6 L1783.4,268.0 L1780.4,268.4 L1777.5,268.8 L1774.5,269.1 L1771.5,269.5 L1768.5,269.8 L1765.6,270.2 L1762.6,270.5 L1759.6,270.8 L1756.6,271.1 L1753.6,271.4 L1750.6,271.7 L1747.6,272.0 L1744.7,272.2 L1741.7,272.5 L1738.7,272.8 L1735.7,273.0 L1732.7,273.3 L1729.7,273.5 L1726.7,273.7 L1723.7,273.9 L1720.7,274.2 L1717.7,274.4 L1714.7,274.6 L1711.8,274.8 L1708.8,275.0 L1705.8,275.2 L1702.8,275.4 L1699.8,275.6 L1696.8,275.7 L1693.8,275.9 L1690.8,276.1 L1687.8,276.2 L1684.8,276.4 L1681.8,276.6 L1678.8,276.7 L1675.8,276.9 L1672.8,277.0 L1669.8,277.2 L1666.8,277.3 L1663.8,277.5 L1660.8,277.6 L1657.8,277.8 L1654.8,277.9 L1651.8,278.1 L1648.8,278.2 L1645.8,278.3 L1642.9,278.4 L1639.9,278.6 L1636.9,278.7 L1633.9,278.8 L1630.9,278.9 L1627.9,279.0 L1624.9,279.1 L1621.9,279.3 L1618.9,279.4 L1615.9,279.5 L1612.9,279.6 L1609.9,279.7 L1606.9,279.8 L1603.9,279.9 L1600.9,280.0 L1597.9,280.1 L1594.9,280.2 L1591.9,280.2 L1588.9,280.3 L1585.9,280.4 L1582.9,280.5 L1579.9,280.6 L1576.9,280.7 L1573.9,280.8 L1570.9,280.9 L1567.9,280.9 L1564.9,281.0 L1561.9,281.1 L1558.9,281.2 L1555.9,281.3 L1552.9,281.3 L1549.9,281.4 L1546.9,281.5 L1543.9,281.6 L1540.9,281.6 L1537.9,281.7 L1534.9,281.8 L1531.9,281.8 L1528.9,281.9 L1525.9,282.0 L1522.9,282.0 L1519.9,282.1 L1516.9,282.2 L1513.9,282.2 L1510.9,282.3 L1507.9,282.3 L1504.9,282.4 L1501.9,282.5 L1498.9,282.5 L1495.9,282.6 L1492.9,282.6 L1489.9,282.7 L1486.9,282.7 L1483.9,282.8 L1480.9,282.8 L1477.9,282.9 L1474.9,282.9 L1471.9,282.9 L1468.9,283.0 L1465.9,283.0 L1462.9,283.1 L1459.9,283.1 L1456.9,283.1 L1453.9,283.2 L1450.9,283.2 L1447.9,283.2 L1444.9,283.3 L1441.9,283.3 L1438.9,283.3 L1435.9,283.4 L1432.9,283.4 L1429.9,283.4 L1426.9,283.5 L1423.9,283.5 L1420.9,283.5 L1417.9,283.6 L1414.9,283.6 L1411.9,283.6 L1408.9,283.7 L1405.9,283.7 L1402.9,283.7 L1399.9,283.8 L1396.9,283.8 L1393.9,283.8 L1390.9,283.9 L1387.9,283.9 L1384.9,283.9 L1381.9,284.0 L1378.9,284.0 L1375.9,284.0 L1372.9,284.1 L1369.9,284.1 L1366.9,284.1 L1363.9,284.2 L1360.9,284.2 L1357.9,284.2 L1354.9,284.3 L1351.9,284.3 L1348.9,284.4 L1345.9,284.4 L1342.9,284.5 L1339.9,284.5 L1336.9,284.6 L1333.9,284.6 L1330.9,284.7 L1327.9,284.7 L1324.9,284.8 L1321.9,284.8 L1318.9,284.9 L1315.9,284.9 L1312.9,285.0 L1309.9,285.0 L1306.9,285.1 L1303.9,285.2 L1300.9,285.2 L1297.9,285.3 L1294.9,285.3 L1291.9,285.4 L1288.9,285.5 L1285.9,285.5 L1282.9,285.6 L1279.9,285.7 L1276.9,285.7 L1273.9,285.8 L1270.9,285.9 L1267.9,285.9 L1264.9,286.0 L1261.9,286.0 L1258.9,286.1 L1255.9,286.2 L1252.9,286.2 L1249.9,286.3 L1246.9,286.3 L1243.9,286.4 L1240.9,286.5 L1237.9,286.5 L1234.9,286.6 L1231.9,286.6 L1228.9,286.7 L1225.9,286.7 L1222.9,286.8 L1219.9,286.8 L1216.9,286.9 L1213.9,286.9 L1210.9,287.0 L1207.9,287.0 L1204.9,287.1 L1201.9,287.1 L1199.0,287.2 L1196.0,287.2 L1193.0,287.2 L1190.0,287.3 L1187.0,287.3 L1184.0,287.3 L1181.0,287.4 L1178.0,287.4 L1175.0,287.4 L1172.0,287.5 L1169.0,287.5 L1166.0,287.5 L1163.0,287.6 L1160.0,287.6 L1157.0,287.6 L1154.0,287.6 L1151.0,287.7 L1148.0,287.7 L1145.0,287.7 L1142.0,287.7 L1139.0,287.8 L1136.0,287.8 L1133.0,287.8 L1130.0,287.8 L1127.0,287.9 L1124.0,287.9 L1121.0,287.9 L1118.0,287.9 L1115.0,288.0 L1112.0,288.0 L1109.0,288.0 L1106.0,288.1 L1103.0,288.1 L1100.0,288.1 L1097.0,288.1 L1094.0,288.2 L1091.0,288.2 L1088.0,288.2 L1085.0,288.3 L1082.0,288.3 L1079.0,288.4 L1076.0,288.4 L1073.0,288.4 L1070.0,288.5 L1067.0,288.5 L1064.0,288.6 L1061.0,288.6 L1058.0,288.7 L1055.0,288.7 L1052.0,288.8 L1049.0,288.8 L1046.0,288.9 L1043.0,288.9 L1040.0,289.0 L1037.0,289.1 L1034.0,289.1 L1031.0,289.2 L1028.0,289.2 L1025.0,289.3 L1022.0,289.3 L1019.0,289.4 L1016.0,289.4 L1013.0,289.5 L1010.0,289.5 L1007.0,289.6 L1004.0,289.6 L1001.0,289.7 L998.0,289.7 L995.0,289.8 L992.0,289.8 L989.0,289.9 L986.0,289.9 L983.0,290.0 L980.0,290.0 L977.0,290.1 L974.0,290.1 L971.0,290.2 L968.0,290.3 L965.0,290.3 L962.0,290.4 L959.0,290.4 L956.0,290.5 L953.0,290.6 L950.0,290.6 L947.0,290.7 L944.0,290.8 L941.0,290.9 L938.0,290.9 L935.0,291.0 L932.0,291.1 L929.0,291.2 L926.0,291.3 L923.0,291.4 L920.0,291.5 L917.0,291.6 L914.0,291.8 L911.0,291.9 L908.0,292.0 L905.0,292.2 L902.0,292.3 L899.0,292.5 L896.0,292.7 L893.0,292.9 L890.0,293.1 L887.0,293.3 L884.1,293.5 L881.1,293.8 L878.1,294.0 L875.1,294.3 L872.1,294.6 L869.1,295.0 L866.1,295.3 L863.2,295.7 L860.2,296.1 L857.2,296.5 L854.3,296.9 L851.3,297.4 L848.3,297.9 L845.4,298.4 L842.4,298.9 L839.5,299.4 L836.5,299.9 L833.6,300.4 L830.6,300.9 L827.6,301.4 L824.7,302.0 L821.7,302.4 L818.8,302.9 L815.8,303.4 L812.8,303.9 L809.9,304.3 L806.9,304.8 L803.9,305.2 L801.0,305.7 L798.0,306.1 L795.1,306.6 L792.1,307.1 L789.1,307.6 L786.2,308.1 L783.2,308.6 L780.3,309.1 L777.3,309.7 L774.4,310.3 L771.5,311.0 L768.6,311.7 L765.7,312.4 L762.8,313.2 L759.9,314.0 L757.0,314.8 L754.1,315.7 L751.3,316.6 L748.4,317.5 L745.5,318.4 L742.7,319.4 L739.8,320.3 L737.0,321.2 L734.2,322.2 L731.3,323.2 L728.5,324.2 L725.7,325.2 L722.9,326.2 L720.1,327.3 L717.3,328.4 L714.5,329.5 L711.7,330.7 L709.0,331.9 L706.2,333.1 L703.5,334.3 L700.8,335.6 L698.1,336.8 L695.3,338.1 L692.6,339.3 L689.9,340.5 L687.1,341.8 L684.4,343.0 L681.6,344.2 L678.9,345.4 L676.3,346.7 L673.6,348.1 L671.1,349.6 L668.6,351.2 L666.3,353.0 L664.0,354.9 L661.9,356.9 L659.8,359.0 L657.8,361.2 L655.9,363.5 L654.1,365.8 L652.3,368.2 L650.5,370.7 L648.8,373.1 L647.1,375.6 L645.4,378.1 L643.8,380.6 L642.2,383.1 L640.6,385.6 L639.0,388.2 L637.5,390.8 L636.0,393.4 L634.5,396.0 L633.1,398.6 L631.6,401.2 L630.2,403.9 L628.9,406.6 L627.5,409.2 L626.2,411.9 L624.9,414.6 L623.6,417.3 L622.3,420.0 L621.1,422.8 L619.9,425.5 L618.7,428.3 L617.6,431.0 L616.5,433.8 L615.4,436.6 L614.4,439.5 L613.4,442.3 L612.4,445.1 L611.4,448.0 L610.5,450.8 L609.5,453.6 L608.6,456.5 L607.7,459.4 L606.8,462.2 L605.8,465.1 L604.9,467.9 L604.0,470.8 L603.0,473.6 L602.0,476.4 L601.0,479.2 L599.9,482.1 L598.9,484.9 L597.9,487.7 L596.8,490.5 L595.7,493.3 L594.6,496.1 L593.5,498.9 L592.4,501.7 L591.3,504.4 L590.1,507.2 L588.9,510.0 L587.7,512.7 L586.5,515.4 L585.3,518.2 L584.0,520.9 L582.8,523.6 L581.5,526.3 L580.2,529.0 L578.8,531.7 L577.4,534.3 L576.0,536.8 L574.4,539.3 L572.6,541.6 L570.7,543.8 L568.7,545.9 L566.5,547.8 L564.2,549.6 L561.9,551.4 L559.5,553.2 L557.1,554.9 L554.8,556.7 L552.5,558.6 L550.3,560.6 L548.2,562.7 L546.1,564.8 L544.1,567.0 L542.1,569.1 L540.0,571.3 L538.0,573.5 L535.9,575.6 L533.8,577.8 L531.6,579.8 L529.4,581.9 L527.2,583.9 L525.0,586.0 L522.8,588.0 L520.6,590.0 L518.3,592.0 L516.1,593.9 L513.8,595.9 L511.5,597.9 L509.3,599.8 L507.0,601.8 L504.7,603.7 L502.4,605.6 L500.0,607.5 L497.7,609.4 L495.3,611.2 L493.0,613.1 L490.6,614.9 L488.2,616.8 L485.9,618.6 L483.5,620.5 L481.1,622.3 L478.8,624.2 L476.4,626.0 L474.1,627.9 L471.8,629.8 L469.4,631.7 L467.1,633.6 L464.8,635.4 L462.4,637.3 L460.1,639.1 L457.7,640.9 L455.2,642.6 L452.7,644.2 L450.2,645.7 L447.6,647.1 L444.9,648.4 L442.2,649.6 L439.4,650.6 L436.6,651.6 L433.7,652.4 L430.8,653.1 L427.9,653.7 L425.0,654.1 L422.0,654.4 L419.1,654.6 L416.1,654.6 L413.1,654.5 L410.2,654.3 L407.3,653.9 L404.3,653.4 L401.5,652.8 L398.6,652.0 L395.8,651.0 L393.1,649.9 L390.4,648.7 L387.7,647.4 L385.1,645.9 L382.6,644.4 L380.1,642.7 L377.6,641.0 L375.2,639.3 L372.8,637.5 L370.4,635.7 L368.0,633.9 L365.7,632.0 L363.4,630.1 L361.1,628.1 L358.8,626.2 L356.5,624.2 L354.3,622.2 L352.1,620.2 L349.9,618.2 L347.7,616.2 L345.5,614.1 L343.4,612.0 L341.3,609.8 L339.2,607.7 L337.2,605.5 L335.1,603.3 L333.0,601.1 L330.9,599.0 L328.8,596.9 L326.7,594.9 L324.4,592.9 L322.2,590.9 L319.8,589.1 L317.5,587.2 L315.1,585.4 L314.3,584.8" stroke="#0396B1" stroke-width="5.0"/>
<path d="M314.3,584.8 L314.7,581.8 L315.2,578.9 L315.6,575.9 L316.0,572.9 L316.4,569.9 L316.9,567.0 L317.3,564.0 L317.7,561.0 L318.1,558.1 L318.6,555.1 L319.0,552.1 L319.4,549.1 L319.8,546.2 L320.2,543.2 L320.6,540.2 L321.0,537.2 L321.4,534.3 L321.8,531.3 L322.1,528.3 L322.5,525.3 L322.9,522.3 L323.2,519.4 L323.6,516.4 L324.0,513.4 L324.4,510.4 L324.8,507.5 L325.2,504.5 L325.7,501.5 L326.1,498.6 L326.7,495.6 L327.2,492.7 L327.8,489.7 L328.4,486.8 L329.1,483.8 L329.7,480.9 L330.4,478.0 L331.2,475.1 L331.9,472.2 L332.7,469.3 L333.4,466.4 L334.2,463.5 L335.0,460.6 L335.9,457.7 L336.7,454.8 L337.5,451.9 L338.4,449.1 L339.2,446.2 L340.0,443.3 L340.9,440.4 L341.7,437.5 L342.6,434.7 L343.5,431.8 L344.3,428.9 L345.3,426.1 L346.2,423.2 L347.2,420.4 L348.2,417.5 L349.2,414.7 L350.3,411.9 L351.4,409.1 L352.5,406.4 L353.7,403.6 L355.0,400.9 L356.3,398.2 L357.6,395.5 L358.9,392.8 L360.3,390.2 L361.8,387.5 L363.2,384.9 L364.8,382.3 L366.3,379.8 L368.0,377.3 L369.6,374.8 L371.4,372.3 L373.1,369.9 L375.0,367.6 L376.9,365.3 L378.8,363.0 L380.9,360.8 L382.9,358.6 L385.0,356.5 L387.2,354.5 L389.4,352.4 L391.7,350.5 L394.0,348.5 L396.3,346.6 L398.6,344.7 L401.0,342.9 L403.4,341.1 L405.8,339.3 L408.3,337.6 L410.7,335.9 L413.2,334.2 L415.7,332.6 L418.3,331.0 L420.8,329.4 L423.4,327.9 L426.0,326.4 L428.6,324.9 L431.2,323.4 L433.9,322.0 L436.5,320.6 L439.2,319.3 L441.9,317.9 L444.6,316.6 L447.3,315.3 L450.0,314.0 L452.7,312.7 L455.4,311.5 L458.2,310.2 L460.9,309.0 L463.7,307.8 L466.4,306.7 L469.2,305.5 L472.0,304.4 L474.8,303.3 L477.6,302.2 L480.4,301.2 L483.2,300.2 L486.0,299.2 L488.9,298.2 L491.7,297.2 L494.6,296.3 L497.5,295.4 L500.3,294.6 L503.2,293.7 L506.1,292.9 L509.0,292.1 L511.9,291.3 L514.8,290.6 L517.7,289.9 L520.6,289.1 L523.5,288.4 L526.5,287.8 L529.4,287.1 L532.3,286.5 L535.3,285.8 L538.2,285.2 L541.1,284.6 L544.1,284.0 L547.0,283.5 L550.0,282.9 L552.9,282.4 L555.9,281.9 L558.9,281.4 L561.8,280.9 L564.8,280.4 L567.7,280.0 L570.7,279.5 L573.7,279.1 L576.7,278.7 L579.6,278.3 L582.6,277.9 L585.6,277.5 L588.6,277.2 L591.6,276.8 L594.5,276.5 L597.5,276.2 L600.5,275.9 L603.5,275.6 L606.5,275.3 L609.5,275.0 L612.5,274.7 L615.5,274.4 L618.4,274.2 L621.4,273.9 L624.4,273.6 L627.4,273.3 L630.4,273.0 L633.4,272.7 L636.4,272.5 L639.4,272.2 L642.4,271.9 L645.3,271.6 L648.3,271.4 L651.3,271.1 L654.3,270.8 L657.3,270.6 L660.3,270.3 L663.3,270.0 L666.3,269.8 L669.3,269.5 L672.3,269.2 L675.2,268.9 L678.2,268.7 L681.2,268.4 L684.2,268.1 L687.2,267.8 L690.2,267.6 L693.2,267.3 L696.2,267.1 L699.2,266.8 L702.2,266.6 L705.2,266.3 L708.1,266.1 L711.1,265.9 L714.1,265.7 L717.1,265.5 L720.1,265.4 L723.1,265.2 L726.1,265.0 L729.1,264.9 L732.1,264.7 L735.1,264.6 L738.1,264.4 L741.1,264.2 L744.1,264.0 L747.1,263.8 L750.1,263.6 L753.1,263.4 L756.1,263.1 L759.1,262.8 L762.1,262.5 L765.0,262.2 L768.0,261.9 L771.0,261.5 L774.0,261.2 L777.0,260.8 L779.9,260.5 L782.9,260.1 L785.9,259.7 L788.9,259.3 L791.9,259.0 L794.8,258.6 L797.8,258.2 L800.8,257.9 L803.8,257.5 L806.8,257.2 L809.7,256.8 L812.7,256.4 L815.7,256.1 L818.7,255.7 L821.7,255.4 L824.6,255.0 L827.6,254.7 L830.6,254.3 L833.6,254.0 L836.6,253.6 L839.6,253.3 L842.5,253.0 L845.5,252.7 L848.5,252.3 L851.5,252.0 L854.5,251.7 L857.5,251.4 L860.5,251.1 L863.4,250.8 L866.4,250.5 L869.4,250.2 L872.4,249.9 L875.4,249.6 L878.4,249.3 L881.4,249.0 L884.4,248.7 L887.3,248.4 L890.3,248.1 L893.3,247.8 L896.3,247.6 L899.3,247.3 L902.3,247.0 L905.3,246.7 L908.3,246.4 L911.3,246.2 L914.2,245.9 L917.2,245.6 L920.2,245.3 L923.2,245.1 L926.2,244.8 L929.2,244.5 L932.2,244.3 L935.2,244.0 L938.2,243.8 L941.2,243.5 L944.2,243.3 L947.1,243.0 L950.1,242.8 L953.1,242.5 L956.1,242.3 L959.1,242.0 L962.1,241.8 L965.1,241.6 L968.1,241.3 L971.1,241.1 L974.1,240.8 L977.1,240.6 L980.1,240.4 L983.1,240.1 L986.0,239.9 L989.0,239.6 L992.0,239.4 L995.0,239.1 L998.0,238.9 L1001.0,238.6 L1004.0,238.4" stroke="#0396B1" stroke-width="5.0"/>
<path d="M1004.0,236.0 L1007.0,236.0 L1010.0,236.0 L1013.0,236.0 L1016.0,236.1 L1019.0,236.1 L1022.0,236.1 L1025.0,236.1 L1028.0,236.1 L1031.0,236.2 L1034.0,236.2 L1037.0,236.3 L1040.0,236.3 L1043.0,236.4 L1046.0,236.5 L1049.0,236.5 L1052.0,236.6 L1055.0,236.7 L1058.0,236.8 L1061.0,236.9 L1064.0,237.0 L1067.0,237.1 L1070.0,237.2 L1073.0,237.3 L1076.0,237.4 L1079.0,237.5 L1082.0,237.6 L1085.0,237.7 L1088.0,237.8 L1091.0,237.9 L1094.0,238.0 L1097.0,238.1 L1100.0,238.2 L1103.0,238.3 L1106.0,238.4 L1109.0,238.5 L1112.0,238.6 L1115.0,238.7 L1118.0,238.8 L1121.0,239.0 L1124.0,239.1 L1127.0,239.2 L1130.0,239.3 L1133.0,239.4 L1136.0,239.5 L1139.0,239.6 L1142.0,239.8 L1145.0,239.9 L1148.0,240.0 L1151.0,240.1 L1154.0,240.2 L1157.0,240.3 L1160.0,240.4 L1163.0,240.6 L1166.0,240.7 L1169.0,240.8 L1172.0,240.9 L1175.0,241.0 L1178.0,241.1 L1181.0,241.3 L1184.0,241.4 L1187.0,241.5 L1190.0,241.6 L1193.0,241.7 L1196.0,241.8 L1199.0,242.0 L1202.0,242.1 L1205.0,242.2 L1208.0,242.3 L1211.0,242.4 L1214.0,242.5 L1217.0,242.7 L1220.0,242.8 L1223.0,242.9 L1226.0,243.0 L1229.0,243.1 L1232.0,243.3 L1235.0,243.4 L1238.0,243.5 L1241.0,243.6 L1244.0,243.7 L1247.0,243.8 L1250.0,244.0 L1253.0,244.1 L1256.0,244.2 L1259.0,244.3 L1262.0,244.4 L1265.0,244.6 L1268.0,244.7 L1271.0,244.8 L1274.0,244.9 L1277.0,245.1 L1280.0,245.2 L1283.0,245.3 L1286.0,245.4 L1289.0,245.6 L1292.0,245.7 L1295.0,245.8 L1298.0,245.9 L1301.0,246.1 L1304.0,246.2 L1307.0,246.3 L1310.0,246.5 L1313.0,246.6 L1316.0,246.7 L1319.0,246.9 L1322.0,247.0 L1325.0,247.1 L1328.0,247.3 L1331.0,247.4 L1334.0,247.5 L1337.0,247.7 L1340.0,247.8 L1343.0,248.0 L1346.0,248.1 L1349.0,248.3 L1352.0,248.4 L1355.0,248.6 L1358.0,248.7 L1361.0,248.9 L1364.0,249.0 L1367.0,249.2 L1370.0,249.4 L1373.0,249.5 L1376.0,249.7 L1379.0,249.9 L1382.0,250.0 L1385.0,250.2 L1388.0,250.4 L1391.0,250.6 L1394.0,250.8 L1397.0,250.9 L1400.0,251.1 L1403.0,251.3 L1406.0,251.5 L1409.0,251.7 L1412.0,251.9 L1414.9,252.1 L1417.9,252.3 L1420.9,252.5 L1423.9,252.7 L1426.9,252.9 L1429.9,253.0 L1432.9,253.2 L1435.9,253.4 L1438.9,253.6 L1441.9,253.8 L1444.9,254.0 L1447.9,254.2 L1450.9,254.4 L1453.9,254.6 L1456.9,254.8 L1459.9,254.9 L1462.9,255.1 L1465.9,255.3 L1468.9,255.5 L1471.9,255.6 L1474.9,255.8 L1477.9,256.0 L1480.9,256.1 L1483.9,256.3 L1486.9,256.5 L1489.9,256.6 L1492.9,256.7 L1495.9,256.9 L1498.9,257.0 L1501.9,257.2 L1504.9,257.3 L1507.9,257.4 L1510.9,257.5 L1513.9,257.7 L1516.9,257.8 L1519.9,257.9 L1522.9,258.0 L1525.9,258.1 L1528.9,258.2 L1531.9,258.3 L1534.9,258.4 L1537.9,258.5 L1540.9,258.6 L1543.9,258.7 L1546.9,258.8 L1549.9,258.9 L1552.9,259.0 L1555.9,259.1 L1558.9,259.1 L1561.9,259.2 L1564.9,259.3 L1567.9,259.3 L1570.9,259.4 L1573.9,259.4 L1576.9,259.5 L1579.9,259.5 L1582.9,259.6 L1585.9,259.6 L1588.9,259.6 L1591.9,259.6 L1594.9,259.6 L1597.9,259.7 L1600.9,259.7 L1603.9,259.7 L1606.9,259.6 L1609.9,259.6 L1612.9,259.6 L1615.9,259.6 L1618.9,259.5 L1621.9,259.5 L1624.9,259.4 L1627.9,259.4 L1630.9,259.3 L1633.9,259.3 L1636.9,259.2 L1639.9,259.1 L1642.9,259.0 L1645.9,259.0 L1648.9,258.9 L1651.9,258.8 L1654.9,258.7 L1657.9,258.6 L1660.9,258.5 L1663.9,258.5 L1666.9,258.4 L1669.9,258.3 L1672.9,258.2 L1675.9,258.1 L1678.9,258.0 L1681.9,257.9 L1684.9,257.9 L1687.9,257.8 L1690.9,257.7 L1693.9,257.7 L1696.9,257.6 L1699.9,257.5 L1702.9,257.5 L1705.9,257.4 L1708.9,257.3 L1711.9,257.3 L1714.9,257.2 L1717.9,257.2 L1720.9,257.1 L1723.9,257.1 L1726.9,257.0 L1729.9,257.0 L1733.0,256.9 L1736.0,256.9 L1739.0,256.8 L1742.0,256.8 L1745.0,256.8 L1748.0,256.7 L1751.0,256.7 L1754.0,256.6 L1757.0,256.6 L1760.0,256.5 L1763.0,256.5 L1766.0,256.4 L1769.0,256.4 L1772.0,256.3 L1775.0,256.3 L1778.0,256.2 L1781.0,256.2 L1784.0,256.1 L1787.0,256.0 L1790.0,256.0 L1793.0,255.9 L1796.0,255.9 L1799.0,255.8 L1802.0,255.7 L1805.0,255.6 L1808.0,255.6 L1811.0,255.5 L1814.0,255.4 L1817.0,255.3 L1820.0,255.2 L1823.0,255.2 L1826.0,255.1 L1829.0,255.0" stroke="#F4822B" stroke-width="5.0"/>
<path d="M1829.0,255.0 L1827.0,256.7 L1825.0,258.3 L1822.8,259.7 L1820.5,261.1 L1818.0,262.3 L1815.4,263.4 L1812.7,264.3 L1809.9,265.2 L1807.0,265.9 L1804.1,266.7 L1801.2,267.3 L1798.3,267.9 L1795.3,268.5 L1792.4,269.0 L1789.4,269.5 L1786.5,270.0 L1783.5,270.4 L1780.5,270.8 L1777.5,271.2 L1774.6,271.6 L1771.6,272.0 L1768.6,272.4 L1765.6,272.7 L1762.7,273.0 L1759.7,273.3 L1756.7,273.6 L1753.7,273.9 L1750.7,274.2 L1747.7,274.5 L1744.7,274.7 L1741.7,275.0 L1738.8,275.2 L1735.8,275.4 L1732.8,275.6 L1729.8,275.9 L1726.8,276.1 L1723.8,276.3 L1720.8,276.5 L1717.8,276.6 L1714.8,276.8 L1711.8,277.0 L1708.8,277.2 L1705.8,277.3 L1702.8,277.5 L1699.8,277.6 L1696.8,277.7 L1693.8,277.9 L1690.8,278.0 L1687.8,278.1 L1684.8,278.2 L1681.8,278.4 L1678.9,278.5 L1675.9,278.6 L1672.9,278.7 L1669.9,278.8 L1666.9,278.9 L1663.9,279.0 L1660.9,279.1 L1657.9,279.2 L1654.9,279.3 L1651.9,279.4 L1648.9,279.5 L1645.9,279.5 L1642.9,279.6 L1639.9,279.7 L1636.9,279.8 L1633.9,279.8 L1630.9,279.9 L1627.9,280.0 L1624.9,280.0 L1621.9,280.1 L1618.9,280.1 L1615.9,280.2 L1612.9,280.3 L1609.9,280.3 L1606.9,280.4 L1603.9,280.4 L1600.9,280.5 L1597.9,280.5 L1594.9,280.6 L1591.9,280.6 L1588.9,280.7 L1585.9,280.7 L1582.9,280.8 L1579.9,280.8 L1576.9,280.9 L1573.9,280.9 L1570.9,281.0 L1567.9,281.0 L1564.9,281.1 L1561.9,281.1 L1558.9,281.1 L1555.9,281.2 L1552.9,281.2 L1549.9,281.3 L1546.9,281.3 L1543.9,281.3 L1540.9,281.4 L1537.9,281.4 L1534.9,281.5 L1531.9,281.5 L1528.9,281.6 L1525.9,281.6 L1522.9,281.6 L1519.9,281.7 L1516.9,281.7 L1513.9,281.8 L1510.9,281.8 L1507.9,281.9 L1504.9,281.9 L1501.9,282.0 L1498.9,282.0 L1495.9,282.1 L1492.9,282.1 L1489.9,282.2 L1486.9,282.2 L1483.9,282.3 L1480.9,282.3 L1477.9,282.4 L1474.9,282.4 L1471.9,282.5 L1468.9,282.5 L1465.9,282.6 L1462.9,282.6 L1459.9,282.7 L1456.9,282.7 L1453.9,282.8 L1450.9,282.8 L1447.9,282.9 L1444.9,282.9 L1441.9,283.0 L1438.9,283.0 L1435.9,283.1 L1432.9,283.1 L1429.9,283.2 L1426.9,283.2 L1423.9,283.3 L1420.9,283.3 L1417.9,283.4 L1414.9,283.4 L1411.9,283.5 L1408.9,283.6 L1405.9,283.6 L1402.9,283.7 L1399.9,283.7 L1396.9,283.8 L1393.9,283.8 L1390.9,283.9 L1387.9,284.0 L1384.9,284.0 L1381.9,284.1 L1378.9,284.1 L1375.9,284.2 L1372.9,284.3 L1369.9,284.3 L1366.9,284.4 L1363.9,284.5 L1360.9,284.5 L1357.9,284.6 L1354.9,284.7 L1351.9,284.7 L1348.9,284.8 L1345.9,284.9 L1342.9,284.9 L1339.9,285.0 L1336.9,285.1 L1333.9,285.2 L1330.9,285.3 L1327.9,285.3 L1324.9,285.4 L1321.9,285.5 L1318.9,285.6 L1315.9,285.7 L1312.9,285.8 L1309.9,285.9 L1306.9,286.0 L1303.9,286.1 L1300.9,286.2 L1297.9,286.3 L1294.9,286.4 L1291.9,286.5 L1288.9,286.6 L1285.9,286.7 L1282.9,286.8 L1280.0,287.0 L1277.0,287.1 L1274.0,287.2 L1271.0,287.3 L1268.0,287.4 L1265.0,287.5 L1262.0,287.6 L1259.0,287.7 L1256.0,287.8 L1253.0,287.9 L1250.0,288.0 L1247.0,288.1 L1244.0,288.2 L1241.0,288.3 L1238.0,288.3 L1235.0,288.4 L1232.0,288.5 L1229.0,288.6 L1226.0,288.7 L1223.0,288.7 L1220.0,288.8 L1217.0,288.9 L1214.0,288.9 L1211.0,289.0 L1208.0,289.0 L1205.0,289.1 L1202.0,289.1 L1199.0,289.2 L1196.0,289.2 L1193.0,289.2 L1190.0,289.3 L1187.0,289.3 L1184.0,289.3 L1181.0,289.3 L1178.0,289.3 L1175.0,289.4 L1172.0,289.4 L1169.0,289.4 L1166.0,289.4 L1163.0,289.4 L1160.0,289.4 L1157.0,289.4 L1154.0,289.4 L1151.0,289.4 L1148.0,289.4 L1145.0,289.4 L1142.0,289.4 L1139.0,289.4 L1136.0,289.4 L1133.0,289.4 L1130.0,289.4 L1127.0,289.4 L1124.0,289.4 L1121.0,289.4 L1118.0,289.4 L1115.0,289.4 L1112.0,289.4 L1109.0,289.4 L1106.0,289.4 L1103.0,289.4 L1100.0,289.4 L1097.0,289.4 L1094.0,289.4 L1091.0,289.5 L1088.0,289.5 L1085.0,289.5 L1082.0,289.5 L1079.0,289.5 L1076.0,289.5 L1073.0,289.6 L1070.0,289.6 L1067.0,289.6 L1064.0,289.6 L1061.0,289.7 L1058.0,289.7 L1055.0,289.8 L1052.0,289.8 L1049.0,289.9 L1046.0,289.9 L1043.0,290.0 L1040.0,290.0 L1037.0,290.1 L1034.0,290.1 L1031.0,290.2 L1028.0,290.2 L1025.0,290.3 L1022.0,290.3 L1019.0,290.4 L1016.0,290.5 L1013.0,290.5 L1010.0,290.6 L1007.0,290.6 L1004.0,290.7 L1001.0,290.7 L998.0,290.8 L995.0,290.8 L992.0,290.9 L989.0,290.9 L986.0,291.0 L983.0,291.1 L980.0,291.1 L977.0,291.2 L974.0,291.2 L971.0,291.3 L968.0,291.4 L965.0,291.4 L962.0,291.5 L959.0,291.6 L956.0,291.7 L953.0,291.8 L950.0,291.8 L947.0,291.9 L944.0,292.0 L941.0,292.1 L938.0,292.2 L935.0,292.3 L932.0,292.4 L929.0,292.6 L926.0,292.7 L923.0,292.8 L920.0,292.9 L917.0,293.1 L914.0,293.2 L911.0,293.4 L908.0,293.6 L905.1,293.8 L902.1,293.9 L899.1,294.2 L896.1,294.4 L893.1,294.6 L890.1,294.8 L887.1,295.1 L884.1,295.4 L881.1,295.7 L878.2,296.0 L875.2,296.4 L872.2,296.7 L869.2,297.1 L866.3,297.5 L863.3,298.0 L860.3,298.4 L857.4,298.9 L854.4,299.5 L851.5,300.0 L848.5,300.6 L845.6,301.2 L842.6,301.8 L839.7,302.4 L836.8,303.0 L833.9,303.7 L830.9,304.4 L828.0,305.0 L825.1,305.7 L822.2,306.4 L819.3,307.1 L816.3,307.8 L813.4,308.5 L810.5,309.3 L807.6,310.0 L804.7,310.7 L801.8,311.5 L798.9,312.3 L796.0,313.1 L793.1,313.9 L790.2,314.7 L787.3,315.5 L784.5,316.4 L781.6,317.2 L778.7,318.1 L775.9,319.0 L773.0,320.0 L770.2,320.9 L767.4,321.9 L764.5,322.9 L761.7,324.0 L758.9,325.1 L756.1,326.2 L753.4,327.3 L750.6,328.5 L747.8,329.6 L745.1,330.8 L742.3,332.0 L739.6,333.2 L736.8,334.4 L734.1,335.6 L731.3,336.8 L728.6,338.1 L725.9,339.3 L723.1,340.5 L720.4,341.7 L717.6,342.9 L714.9,344.1 L712.1,345.2 L709.3,346.4 L706.6,347.5 L703.8,348.7 L701.0,349.8 L698.3,351.1 L695.6,352.3 L692.9,353.7 L690.3,355.1 L687.7,356.6 L685.2,358.2 L682.7,359.8 L680.2,361.4 L677.7,363.1 L675.3,364.8 L672.8,366.5 L670.4,368.3 L668.0,370.0 L665.7,371.8 L663.4,373.7 L661.2,375.7 L659.1,377.8 L657.1,379.9 L655.1,382.1 L653.2,384.4 L651.3,386.7 L649.4,389.0 L647.6,391.4 L645.7,393.7 L643.9,396.1 L642.1,398.5 L640.4,400.9 L638.7,403.4 L637.1,405.9 L635.5,408.4 L634.0,411.0 L632.6,413.7 L631.2,416.3 L629.9,419.0 L628.6,421.7 L627.3,424.4 L626.0,427.1 L624.7,429.8 L623.4,432.5 L622.2,435.2 L620.9,438.0 L619.6,440.7 L618.4,443.4 L617.1,446.1 L615.9,448.9 L614.7,451.6 L613.5,454.4 L612.3,457.1 L611.2,459.9 L610.1,462.7 L609.0,465.5 L607.9,468.3 L606.9,471.1 L605.9,473.9 L604.9,476.8 L603.9,479.6 L602.9,482.4 L601.9,485.2 L600.8,488.0 L599.7,490.8 L598.6,493.6 L597.5,496.4 L596.4,499.2 L595.3,502.0 L594.2,504.8 L593.2,507.6 L592.1,510.4 L591.0,513.2 L590.0,516.0 L588.9,518.8 L587.8,521.6 L586.7,524.4 L585.5,527.1 L584.3,529.9 L583.1,532.6 L581.8,535.3 L580.4,537.9 L578.9,540.5 L577.4,543.1 L575.8,545.6 L574.1,548.0 L572.3,550.4 L570.4,552.7 L568.4,554.9 L566.4,557.0 L564.2,559.1 L562.0,561.1 L559.8,563.1 L557.5,565.1 L555.2,567.0 L552.9,568.9 L550.6,570.8 L548.3,572.7 L546.0,574.6 L543.7,576.5 L541.4,578.5 L539.2,580.5 L536.9,582.5 L534.7,584.5 L532.5,586.6 L530.4,588.6 L528.2,590.7 L525.9,592.7 L523.7,594.7 L521.4,596.6 L519.1,598.5 L516.8,600.4 L514.4,602.3 L512.1,604.1 L509.6,605.9 L507.2,607.6 L504.8,609.4 L502.3,611.1 L499.8,612.8 L497.3,614.4 L494.8,616.1 L492.3,617.7 L489.8,619.4 L487.3,621.1 L484.8,622.7 L482.4,624.4 L479.9,626.1 L477.4,627.8 L474.9,629.4 L472.4,631.1 L469.9,632.7 L467.3,634.2 L464.7,635.7 L462.1,637.1 L459.4,638.5 L456.7,639.7 L454.0,640.9 L451.2,641.9 L448.4,642.9 L445.5,643.8 L442.7,644.5 L439.8,645.2 L436.8,645.8 L433.9,646.2 L430.9,646.6 L428.0,646.9 L425.0,647.1 L422.0,647.2 L419.0,647.1 L416.1,647.0 L413.1,646.8 L410.2,646.4 L407.3,645.8 L404.4,645.1 L401.6,644.3 L398.9,643.2 L396.2,642.0 L393.6,640.6 L391.1,639.1 L388.6,637.5 L386.1,635.8 L383.8,634.0 L381.4,632.1 L379.1,630.2 L376.9,628.2 L374.6,626.2 L372.4,624.2 L370.3,622.1 L368.1,620.0 L366.0,617.9 L363.9,615.8 L361.8,613.7 L359.7,611.5 L357.6,609.4 L355.5,607.3 L353.4,605.1 L351.2,603.0 L349.1,600.9 L347.0,598.8 L344.8,596.7 L342.7,594.6 L340.5,592.6 L338.2,590.6 L335.9,588.7 L333.6,586.8 L331.2,585.1 L328.8,583.3 L326.3,581.7 L323.8,580.1 L321.2,578.5 L318.6,577.0 L316.0,575.5 L314.3,574.5" stroke="#F4822B" stroke-width="5.0"/>
<path d="M314.3,574.5 L314.7,571.5 L315.0,568.5 L315.4,565.6 L315.7,562.6 L316.1,559.6 L316.5,556.6 L316.8,553.6 L317.2,550.7 L317.6,547.7 L317.9,544.7 L318.3,541.7 L318.6,538.8 L319.0,535.8 L319.4,532.8 L319.7,529.8 L320.1,526.8 L320.5,523.9 L320.8,520.9 L321.2,517.9 L321.5,514.9 L321.9,511.9 L322.2,509.0 L322.6,506.0 L323.0,503.0 L323.4,500.0 L323.8,497.1 L324.3,494.1 L324.8,491.1 L325.3,488.2 L325.9,485.3 L326.5,482.3 L327.1,479.4 L327.8,476.5 L328.5,473.6 L329.3,470.6 L330.0,467.8 L330.8,464.9 L331.7,462.0 L332.5,459.1 L333.4,456.2 L334.2,453.3 L335.1,450.5 L336.0,447.6 L336.9,444.7 L337.8,441.9 L338.7,439.0 L339.6,436.1 L340.4,433.3 L341.3,430.4 L342.2,427.5 L343.1,424.7 L344.0,421.8 L345.0,419.0 L345.9,416.1 L346.9,413.3 L347.9,410.5 L349.0,407.7 L350.1,404.9 L351.2,402.1 L352.4,399.4 L353.7,396.7 L355.0,394.0 L356.4,391.3 L357.8,388.7 L359.2,386.0 L360.7,383.4 L362.2,380.9 L363.8,378.3 L365.5,375.8 L367.1,373.3 L368.9,370.9 L370.6,368.5 L372.5,366.1 L374.3,363.8 L376.3,361.5 L378.3,359.3 L380.3,357.1 L382.4,354.9 L384.5,352.8 L386.7,350.8 L389.0,348.8 L391.2,346.9 L393.5,345.0 L395.9,343.1 L398.3,341.3 L400.7,339.5 L403.1,337.7 L405.6,336.0 L408.0,334.3 L410.5,332.7 L413.0,331.0 L415.6,329.4 L418.1,327.9 L420.7,326.4 L423.3,324.9 L425.9,323.4 L428.6,322.0 L431.2,320.6 L433.9,319.2 L436.6,317.9 L439.3,316.6 L442.0,315.3 L444.7,314.0 L447.4,312.7 L450.2,311.5 L452.9,310.3 L455.7,309.1 L458.4,307.9 L461.2,306.8 L464.0,305.6 L466.7,304.5 L469.5,303.4 L472.3,302.3 L475.1,301.3 L478.0,300.2 L480.8,299.2 L483.6,298.2 L486.5,297.2 L489.3,296.3 L492.1,295.4 L495.0,294.5 L497.9,293.6 L500.7,292.7 L503.6,291.9 L506.5,291.0 L509.4,290.2 L512.3,289.5 L515.2,288.7 L518.1,288.0 L521.0,287.2 L523.9,286.5 L526.9,285.9 L529.8,285.2 L532.7,284.5 L535.6,283.9 L538.6,283.3 L541.5,282.7 L544.5,282.1 L547.4,281.5 L550.4,281.0 L553.3,280.4 L556.3,279.9 L559.2,279.4 L562.2,278.9 L565.1,278.4 L568.1,278.0 L571.1,277.5 L574.0,277.1 L577.0,276.7 L580.0,276.3 L583.0,275.9 L585.9,275.5 L588.9,275.2 L591.9,274.8 L594.9,274.5 L597.9,274.2 L600.9,273.9 L603.8,273.6 L606.8,273.3 L609.8,273.0 L612.8,272.7 L615.8,272.4 L618.8,272.2 L621.8,271.9 L624.8,271.6 L627.7,271.3 L630.7,271.0 L633.7,270.7 L636.7,270.5 L639.7,270.2 L642.7,269.9 L645.7,269.6 L648.7,269.3 L651.6,269.1 L654.6,268.8 L657.6,268.5 L660.6,268.2 L663.6,268.0 L666.6,267.7 L669.6,267.4 L672.6,267.1 L675.5,266.8 L678.5,266.5 L681.5,266.3 L684.5,266.0 L687.5,265.7 L690.5,265.4 L693.5,265.1 L696.5,264.8 L699.4,264.6 L702.4,264.3 L705.4,264.1 L708.4,263.8 L711.4,263.6 L714.4,263.4 L717.4,263.2 L720.4,263.0 L723.4,262.9 L726.4,262.7 L729.4,262.6 L732.4,262.4 L735.4,262.3 L738.4,262.1 L741.4,261.9 L744.4,261.7 L747.4,261.5 L750.3,261.3 L753.3,261.1 L756.3,260.8 L759.3,260.5 L762.3,260.2 L765.3,259.9 L768.3,259.6 L771.2,259.2 L774.2,258.8 L777.2,258.5 L780.2,258.1 L783.1,257.7 L786.1,257.3 L789.1,256.9 L792.1,256.5 L795.1,256.1 L798.0,255.8 L801.0,255.4 L804.0,255.0 L807.0,254.6 L809.9,254.3 L812.9,253.9 L815.9,253.5 L818.9,253.1 L821.9,252.8 L824.8,252.4 L827.8,252.1 L830.8,251.7 L833.8,251.3 L836.7,251.0 L839.7,250.6 L842.7,250.3 L845.7,250.0 L848.7,249.6 L851.7,249.3 L854.6,249.0 L857.6,248.6 L860.6,248.3 L863.6,248.0 L866.6,247.7 L869.6,247.4 L872.5,247.1 L875.5,246.8 L878.5,246.4 L881.5,246.1 L884.5,245.8 L887.5,245.5 L890.5,245.2 L893.4,244.9 L896.4,244.6 L899.4,244.3 L902.4,244.0 L905.4,243.7 L908.4,243.4 L911.4,243.1 L914.3,242.8 L917.3,242.5 L920.3,242.3 L923.3,242.0 L926.3,241.7 L929.3,241.4 L932.3,241.1 L935.3,240.8 L938.2,240.6 L941.2,240.3 L944.2,240.0 L947.2,239.8 L950.2,239.5 L953.2,239.2 L956.2,239.0 L959.2,238.7 L962.2,238.4 L965.1,238.2 L968.1,237.9 L971.1,237.6 L974.1,237.4 L977.1,237.1 L980.1,236.8 L983.1,236.6 L986.1,236.3 L989.1,236.0 L992.0,235.8 L995.0,235.5 L998.0,235.2 L1001.0,235.0 L1004.0,234.7" stroke="#F4822B" stroke-width="5.0"/>
<path d="M1004.0,231.0 L1007.0,231.1 L1010.0,231.3 L1013.0,231.4 L1016.0,231.6 L1019.0,231.7 L1022.0,231.8 L1025.0,231.9 L1028.0,232.1 L1031.0,232.2 L1034.0,232.3 L1037.0,232.4 L1040.0,232.4 L1043.0,232.5 L1046.0,232.5 L1049.0,232.6 L1052.0,232.6 L1055.0,232.6 L1058.0,232.6 L1061.0,232.6 L1064.0,232.6 L1067.0,232.6 L1070.0,232.6 L1073.0,232.6 L1076.0,232.6 L1079.0,232.6 L1082.0,232.6 L1085.0,232.6 L1088.0,232.6 L1091.0,232.6 L1094.0,232.6 L1097.0,232.5 L1100.0,232.5 L1103.0,232.5 L1106.0,232.5 L1109.0,232.6 L1112.1,232.6 L1115.1,232.6 L1118.1,232.6 L1121.1,232.6 L1124.1,232.7 L1127.1,232.7 L1130.1,232.8 L1133.1,232.8 L1136.1,232.9 L1139.1,233.0 L1142.1,233.0 L1145.1,233.1 L1148.1,233.2 L1151.1,233.3 L1154.1,233.5 L1157.1,233.6 L1160.1,233.7 L1163.1,233.9 L1166.1,234.0 L1169.1,234.2 L1172.1,234.3 L1175.1,234.5 L1178.1,234.7 L1181.1,234.8 L1184.1,235.0 L1187.1,235.2 L1190.0,235.4 L1193.0,235.6 L1196.0,235.8 L1199.0,235.9 L1202.0,236.1 L1205.0,236.3 L1208.0,236.5 L1211.0,236.7 L1214.0,236.9 L1217.0,237.1 L1220.0,237.3 L1223.0,237.5 L1226.0,237.7 L1229.0,237.9 L1232.0,238.1 L1235.0,238.3 L1238.0,238.5 L1241.0,238.7 L1244.0,238.9 L1247.0,239.1 L1250.0,239.3 L1253.0,239.5 L1256.0,239.7 L1259.0,239.8 L1262.0,240.0 L1265.0,240.2 L1267.9,240.4 L1270.9,240.6 L1273.9,240.8 L1276.9,241.0 L1279.9,241.2 L1282.9,241.4 L1285.9,241.6 L1288.9,241.8 L1291.9,242.0 L1294.9,242.2 L1297.9,242.4 L1300.9,242.6 L1303.9,242.8 L1306.9,243.0 L1309.9,243.2 L1312.9,243.4 L1315.9,243.6 L1318.9,243.8 L1321.9,244.0 L1324.9,244.2 L1327.9,244.4 L1330.9,244.6 L1333.9,244.7 L1336.9,244.9 L1339.9,245.1 L1342.8,245.3 L1345.8,245.5 L1348.8,245.6 L1351.8,245.8 L1354.8,246.0 L1357.8,246.2 L1360.8,246.3 L1363.8,246.5 L1366.8,246.7 L1369.8,246.8 L1372.8,247.0 L1375.8,247.2 L1378.8,247.3 L1381.8,247.5 L1384.8,247.7 L1387.8,247.8 L1390.8,248.0 L1393.8,248.2 L1396.8,248.3 L1399.8,248.5 L1402.8,248.6 L1405.8,248.8 L1408.8,248.9 L1411.8,249.1 L1414.8,249.3 L1417.8,249.4 L1420.8,249.6 L1423.8,249.7 L1426.8,249.9 L1429.8,250.0 L1432.8,250.2 L1435.8,250.3 L1438.8,250.5 L1441.8,250.6 L1444.8,250.7 L1447.8,250.9 L1450.8,251.0 L1453.8,251.2 L1456.8,251.3 L1459.8,251.4 L1462.8,251.6 L1465.8,251.7 L1468.8,251.8 L1471.8,251.9 L1474.8,252.1 L1477.8,252.2 L1480.8,252.3 L1483.8,252.4 L1486.8,252.5 L1489.8,252.6 L1492.8,252.7 L1495.8,252.8 L1498.8,252.9 L1501.8,253.0 L1504.8,253.1 L1507.8,253.2 L1510.8,253.3 L1513.8,253.4 L1516.8,253.5 L1519.8,253.5 L1522.8,253.6 L1525.8,253.7 L1528.8,253.8 L1531.8,253.8 L1534.8,253.9 L1537.8,253.9 L1540.8,254.0 L1543.8,254.0 L1546.8,254.1 L1549.8,254.1 L1552.8,254.2 L1555.8,254.2 L1558.8,254.3 L1561.8,254.3 L1564.8,254.3 L1567.8,254.4 L1570.8,254.4 L1573.8,254.4 L1576.8,254.5 L1579.8,254.5 L1582.8,254.5 L1585.8,254.5 L1588.8,254.5 L1591.8,254.6 L1594.8,254.6 L1597.8,254.6 L1600.8,254.6 L1603.8,254.6 L1606.9,254.6 L1609.9,254.6 L1612.9,254.6 L1615.9,254.6 L1618.9,254.6 L1621.9,254.5 L1624.9,254.5 L1627.9,254.5 L1630.9,254.5 L1633.9,254.5 L1636.9,254.4 L1639.9,254.4 L1642.9,254.4 L1645.9,254.3 L1648.9,254.3 L1651.9,254.2 L1654.9,254.2 L1657.9,254.2 L1660.9,254.1 L1663.9,254.1 L1666.9,254.0 L1669.9,254.0 L1672.9,254.0 L1675.9,253.9 L1678.9,253.9 L1681.9,253.8 L1684.9,253.8 L1687.9,253.7 L1690.9,253.7 L1693.9,253.6 L1696.9,253.6 L1699.9,253.5 L1702.9,253.5 L1705.9,253.4 L1708.9,253.3 L1711.9,253.3 L1714.9,253.2 L1717.9,253.2 L1720.9,253.1 L1723.9,253.1 L1726.9,253.0 L1729.9,253.0 L1732.9,252.9 L1735.9,252.9 L1738.9,252.8 L1741.9,252.8 L1744.9,252.7 L1747.9,252.7 L1751.0,252.7 L1754.0,252.6 L1757.0,252.6 L1760.0,252.6 L1763.0,252.5 L1766.0,252.5 L1769.0,252.5 L1772.0,252.5 L1775.0,252.5 L1778.0,252.5 L1781.0,252.5 L1784.0,252.5 L1787.0,252.5 L1790.0,252.5 L1793.0,252.5 L1796.0,252.5 L1799.0,252.6 L1802.0,252.6 L1805.0,252.7 L1808.0,252.7 L1811.0,252.8 L1814.0,252.8 L1817.0,252.9 L1820.0,253.0 L1823.0,253.1 L1826.0,253.2 L1829.0,253.3" stroke="#8DABD3" stroke-width="5.0"/>
<path d="M1829.0,253.3 L1827.2,255.0 L1825.2,256.5 L1823.2,258.0 L1820.9,259.3 L1818.5,260.5 L1815.8,261.5 L1813.1,262.4 L1810.3,263.2 L1807.4,263.9 L1804.5,264.5 L1801.6,265.2 L1798.7,265.8 L1795.7,266.3 L1792.8,266.8 L1789.8,267.4 L1786.8,267.8 L1783.9,268.3 L1780.9,268.8 L1777.9,269.2 L1775.0,269.6 L1772.0,270.0 L1769.0,270.4 L1766.0,270.8 L1763.1,271.1 L1760.1,271.5 L1757.1,271.8 L1754.1,272.1 L1751.1,272.4 L1748.1,272.7 L1745.2,273.0 L1742.2,273.3 L1739.2,273.5 L1736.2,273.8 L1733.2,274.1 L1730.2,274.3 L1727.2,274.6 L1724.2,274.8 L1721.2,275.0 L1718.2,275.2 L1715.2,275.4 L1712.2,275.6 L1709.2,275.8 L1706.2,276.0 L1703.3,276.2 L1700.3,276.3 L1697.3,276.5 L1694.3,276.6 L1691.3,276.8 L1688.3,276.9 L1685.3,277.1 L1682.3,277.2 L1679.3,277.4 L1676.3,277.5 L1673.3,277.6 L1670.3,277.7 L1667.3,277.9 L1664.3,278.0 L1661.3,278.1 L1658.3,278.2 L1655.3,278.3 L1652.3,278.4 L1649.3,278.5 L1646.3,278.6 L1643.3,278.6 L1640.3,278.7 L1637.3,278.8 L1634.3,278.9 L1631.3,278.9 L1628.3,279.0 L1625.3,279.0 L1622.3,279.1 L1619.3,279.2 L1616.3,279.2 L1613.3,279.3 L1610.3,279.3 L1607.3,279.4 L1604.3,279.4 L1601.3,279.5 L1598.3,279.5 L1595.3,279.6 L1592.3,279.6 L1589.3,279.6 L1586.2,279.7 L1583.2,279.7 L1580.2,279.8 L1577.2,279.8 L1574.2,279.8 L1571.2,279.8 L1568.2,279.9 L1565.2,279.9 L1562.2,279.9 L1559.2,280.0 L1556.2,280.0 L1553.2,280.0 L1550.2,280.0 L1547.2,280.1 L1544.2,280.1 L1541.2,280.1 L1538.2,280.1 L1535.2,280.2 L1532.2,280.2 L1529.2,280.2 L1526.2,280.3 L1523.2,280.3 L1520.2,280.3 L1517.2,280.4 L1514.2,280.4 L1511.2,280.4 L1508.2,280.5 L1505.2,280.5 L1502.2,280.6 L1499.2,280.6 L1496.2,280.7 L1493.2,280.7 L1490.2,280.8 L1487.2,280.8 L1484.2,280.9 L1481.2,280.9 L1478.2,281.0 L1475.2,281.1 L1472.2,281.1 L1469.2,281.2 L1466.2,281.2 L1463.2,281.3 L1460.2,281.4 L1457.2,281.4 L1454.2,281.5 L1451.2,281.5 L1448.2,281.6 L1445.2,281.7 L1442.2,281.7 L1439.2,281.8 L1436.2,281.9 L1433.2,281.9 L1430.2,282.0 L1427.2,282.1 L1424.2,282.1 L1421.2,282.2 L1418.2,282.3 L1415.2,282.3 L1412.2,282.4 L1409.2,282.5 L1406.2,282.6 L1403.2,282.6 L1400.2,282.7 L1397.2,282.8 L1394.2,282.8 L1391.2,282.9 L1388.2,283.0 L1385.2,283.1 L1382.2,283.1 L1379.2,283.2 L1376.2,283.3 L1373.2,283.4 L1370.2,283.4 L1367.2,283.5 L1364.2,283.6 L1361.2,283.7 L1358.2,283.7 L1355.2,283.8 L1352.2,283.9 L1349.2,284.0 L1346.2,284.0 L1343.2,284.1 L1340.2,284.2 L1337.2,284.3 L1334.2,284.4 L1331.2,284.4 L1328.2,284.5 L1325.2,284.6 L1322.2,284.7 L1319.2,284.8 L1316.2,284.9 L1313.2,285.0 L1310.2,285.1 L1307.2,285.1 L1304.2,285.2 L1301.2,285.3 L1298.2,285.4 L1295.2,285.5 L1292.1,285.6 L1289.1,285.7 L1286.1,285.8 L1283.1,285.9 L1280.1,286.0 L1277.1,286.1 L1274.1,286.2 L1271.1,286.3 L1268.1,286.4 L1265.1,286.5 L1262.1,286.6 L1259.1,286.7 L1256.1,286.8 L1253.1,286.9 L1250.1,286.9 L1247.1,287.0 L1244.1,287.1 L1241.1,287.2 L1238.1,287.3 L1235.1,287.4 L1232.1,287.5 L1229.1,287.5 L1226.1,287.6 L1223.1,287.7 L1220.1,287.8 L1217.1,287.8 L1214.1,287.9 L1211.1,288.0 L1208.1,288.0 L1205.1,288.1 L1202.1,288.2 L1199.1,288.2 L1196.1,288.3 L1193.1,288.4 L1190.1,288.4 L1187.1,288.5 L1184.1,288.5 L1181.1,288.6 L1178.1,288.6 L1175.1,288.7 L1172.1,288.7 L1169.1,288.8 L1166.1,288.8 L1163.1,288.9 L1160.1,288.9 L1157.1,288.9 L1154.1,289.0 L1151.1,289.0 L1148.1,289.1 L1145.1,289.1 L1142.1,289.2 L1139.1,289.2 L1136.1,289.2 L1133.1,289.3 L1130.1,289.3 L1127.1,289.4 L1124.1,289.4 L1121.1,289.4 L1118.1,289.5 L1115.1,289.5 L1112.1,289.6 L1109.1,289.6 L1106.1,289.6 L1103.1,289.7 L1100.1,289.7 L1097.1,289.8 L1094.1,289.8 L1091.1,289.9 L1088.1,289.9 L1085.1,289.9 L1082.1,290.0 L1079.1,290.0 L1076.1,290.1 L1073.1,290.1 L1070.1,290.2 L1067.1,290.2 L1064.1,290.3 L1061.1,290.3 L1058.1,290.4 L1055.1,290.5 L1052.1,290.5 L1049.1,290.6 L1046.1,290.7 L1043.1,290.7 L1040.1,290.8 L1037.1,290.9 L1034.1,291.0 L1031.1,291.1 L1028.1,291.2 L1025.1,291.3 L1022.1,291.4 L1019.1,291.5 L1016.1,291.6 L1013.1,291.7 L1010.1,291.9 L1007.1,292.0 L1004.1,292.1 L1001.1,292.3 L998.1,292.4 L995.1,292.6 L992.1,292.8 L989.1,292.9 L986.1,293.1 L983.1,293.2 L980.1,293.4 L977.1,293.5 L974.1,293.7 L971.1,293.8 L968.1,294.0 L965.1,294.1 L962.1,294.3 L959.1,294.5 L956.1,294.6 L953.1,294.8 L950.1,295.0 L947.1,295.1 L944.1,295.3 L941.1,295.5 L938.1,295.7 L935.1,295.8 L932.1,296.0 L929.1,296.2 L926.1,296.4 L923.2,296.6 L920.2,296.9 L917.2,297.1 L914.2,297.3 L911.2,297.6 L908.2,297.8 L905.2,298.1 L902.2,298.3 L899.2,298.6 L896.2,298.9 L893.3,299.2 L890.3,299.5 L887.3,299.9 L884.3,300.3 L881.3,300.7 L878.4,301.1 L875.4,301.5 L872.4,302.0 L869.5,302.4 L866.5,303.0 L863.6,303.5 L860.6,304.1 L857.7,304.6 L854.7,305.3 L851.8,305.9 L848.9,306.5 L845.9,307.2 L843.0,307.9 L840.1,308.6 L837.2,309.3 L834.3,310.1 L831.4,310.8 L828.5,311.6 L825.6,312.4 L822.7,313.1 L819.8,313.9 L816.9,314.7 L814.0,315.5 L811.1,316.3 L808.2,317.1 L805.3,317.9 L802.4,318.8 L799.6,319.6 L796.7,320.5 L793.8,321.4 L790.9,322.3 L788.1,323.2 L785.2,324.1 L782.4,325.0 L779.5,325.9 L776.7,326.9 L773.8,327.9 L771.0,328.9 L768.2,329.9 L765.4,330.9 L762.6,332.0 L759.8,333.0 L757.0,334.1 L754.2,335.3 L751.4,336.4 L748.7,337.6 L745.9,338.8 L743.2,340.0 L740.4,341.3 L737.7,342.6 L735.0,343.9 L732.3,345.2 L729.6,346.5 L727.0,347.8 L724.3,349.2 L721.6,350.5 L718.9,351.8 L716.2,353.1 L713.5,354.4 L710.8,355.7 L708.0,357.0 L705.3,358.2 L702.6,359.5 L699.9,360.8 L697.2,362.1 L694.5,363.5 L691.9,364.9 L689.3,366.4 L686.7,367.9 L684.1,369.4 L681.6,371.0 L679.1,372.7 L676.6,374.4 L674.2,376.1 L671.8,377.9 L669.4,379.7 L667.0,381.5 L664.6,383.4 L662.3,385.2 L660.0,387.1 L657.7,389.1 L655.4,391.0 L653.1,393.0 L650.9,395.0 L648.6,397.0 L646.4,399.0 L644.2,401.1 L642.1,403.1 L639.9,405.2 L637.8,407.4 L635.8,409.5 L633.8,411.8 L631.8,414.0 L629.9,416.3 L628.1,418.7 L626.3,421.1 L624.6,423.6 L622.9,426.0 L621.3,428.6 L619.8,431.1 L618.3,433.7 L616.9,436.4 L615.6,439.1 L614.3,441.8 L613.1,444.5 L612.0,447.3 L610.8,450.0 L609.7,452.8 L608.6,455.6 L607.5,458.4 L606.3,461.2 L605.2,463.9 L603.9,466.6 L602.7,469.4 L601.4,472.1 L600.1,474.8 L598.9,477.5 L597.7,480.2 L596.5,483.0 L595.4,485.7 L594.3,488.5 L593.3,491.3 L592.2,494.2 L591.2,497.0 L590.2,499.8 L589.1,502.6 L588.0,505.4 L586.9,508.2 L585.8,511.0 L584.6,513.7 L583.4,516.5 L582.1,519.2 L580.8,521.8 L579.4,524.5 L577.9,527.0 L576.3,529.6 L574.6,532.0 L572.8,534.4 L570.9,536.6 L568.9,538.9 L566.9,541.0 L564.7,543.1 L562.5,545.1 L560.3,547.1 L558.1,549.1 L555.8,551.1 L553.6,553.1 L551.5,555.2 L549.3,557.2 L547.2,559.3 L545.1,561.5 L542.9,563.6 L540.8,565.7 L538.7,567.8 L536.5,569.9 L534.4,572.0 L532.2,574.0 L529.9,576.0 L527.7,578.0 L525.4,580.0 L523.1,581.9 L520.8,583.8 L518.5,585.8 L516.2,587.7 L513.9,589.6 L511.6,591.5 L509.3,593.5 L507.0,595.4 L504.7,597.3 L502.4,599.2 L500.1,601.1 L497.8,603.0 L495.4,604.8 L493.0,606.6 L490.5,608.3 L488.0,610.0 L485.5,611.6 L483.0,613.2 L480.4,614.7 L477.8,616.1 L475.1,617.6 L472.5,619.0 L469.8,620.3 L467.1,621.7 L464.5,623.1 L461.8,624.4 L459.1,625.8 L456.4,627.1 L453.7,628.4 L451.0,629.6 L448.3,630.8 L445.5,631.9 L442.7,632.8 L439.9,633.6 L437.0,634.2 L434.1,634.7 L431.1,635.0 L428.2,635.2 L425.2,635.2 L422.3,635.1 L419.3,634.9 L416.4,634.5 L413.4,634.0 L410.6,633.4 L407.8,632.6 L405.0,631.6 L402.4,630.5 L399.8,629.1 L397.4,627.5 L395.1,625.8 L392.9,623.9 L390.7,621.8 L388.7,619.7 L386.7,617.5 L384.7,615.3 L382.7,613.0 L380.8,610.7 L378.9,608.4 L376.9,606.1 L375.0,603.8 L373.0,601.5 L371.1,599.3 L369.1,597.0 L367.1,594.8 L365.0,592.6 L363.0,590.4 L360.9,588.3 L358.7,586.2 L356.5,584.2 L354.3,582.1 L352.1,580.2 L349.7,578.3 L347.4,576.4 L345.0,574.7 L342.6,572.9 L340.1,571.2 L337.6,569.6 L335.0,568.0 L332.5,566.4 L329.9,564.8 L327.3,563.3 L324.7,561.8 L322.1,560.3 L319.5,558.8 L316.9,557.4 L314.3,555.9" stroke="#8DABD3" stroke-width="5.0"/>
<path d="M314.3,555.9 L314.5,552.9 L314.7,549.9 L315.0,546.9 L315.2,543.9 L315.4,540.9 L315.7,538.0 L316.0,535.0 L316.3,532.0 L316.6,529.0 L316.8,526.0 L317.1,523.0 L317.4,520.0 L317.7,517.0 L318.1,514.1 L318.4,511.1 L318.7,508.1 L319.0,505.1 L319.4,502.1 L319.7,499.2 L320.1,496.2 L320.5,493.2 L320.9,490.2 L321.3,487.3 L321.8,484.3 L322.2,481.3 L322.7,478.4 L323.2,475.4 L323.8,472.5 L324.3,469.5 L325.0,466.6 L325.6,463.7 L326.3,460.8 L327.1,457.9 L328.0,455.0 L328.9,452.2 L329.8,449.3 L330.8,446.5 L331.9,443.7 L333.0,440.9 L334.1,438.1 L335.2,435.3 L336.3,432.5 L337.4,429.7 L338.4,426.9 L339.4,424.1 L340.4,421.3 L341.4,418.4 L342.4,415.6 L343.3,412.8 L344.3,409.9 L345.3,407.1 L346.3,404.3 L347.3,401.5 L348.4,398.7 L349.5,395.9 L350.7,393.1 L351.9,390.4 L353.2,387.7 L354.5,385.0 L355.9,382.4 L357.4,379.8 L358.9,377.2 L360.5,374.7 L362.2,372.2 L363.9,369.8 L365.7,367.4 L367.6,365.0 L369.5,362.7 L371.5,360.5 L373.5,358.3 L375.6,356.1 L377.7,354.0 L379.8,351.9 L382.0,349.8 L384.2,347.8 L386.5,345.9 L388.8,344.0 L391.1,342.1 L393.5,340.3 L395.9,338.5 L398.3,336.7 L400.8,335.0 L403.3,333.4 L405.8,331.8 L408.4,330.2 L410.9,328.6 L413.5,327.1 L416.1,325.5 L418.7,324.0 L421.3,322.5 L423.9,321.1 L426.5,319.7 L429.2,318.3 L431.9,316.9 L434.6,315.6 L437.3,314.3 L440.0,313.1 L442.7,311.9 L445.5,310.7 L448.3,309.5 L451.0,308.4 L453.8,307.3 L456.6,306.2 L459.4,305.1 L462.2,304.0 L465.0,303.0 L467.8,301.9 L470.7,300.9 L473.5,299.9 L476.3,298.9 L479.1,297.8 L482.0,296.9 L484.8,295.9 L487.6,294.9 L490.5,293.9 L493.3,293.0 L496.2,292.1 L499.0,291.1 L501.9,290.3 L504.8,289.4 L507.7,288.6 L510.5,287.8 L513.4,287.0 L516.3,286.2 L519.3,285.5 L522.2,284.8 L525.1,284.2 L528.0,283.5 L531.0,282.9 L533.9,282.3 L536.8,281.7 L539.8,281.1 L542.7,280.5 L545.7,279.9 L548.6,279.4 L551.6,278.8 L554.5,278.3 L557.5,277.7 L560.4,277.2 L563.4,276.7 L566.3,276.2 L569.3,275.8 L572.3,275.3 L575.2,274.9 L578.2,274.5 L581.2,274.1 L584.2,273.7 L587.2,273.4 L590.1,273.1 L593.1,272.7 L596.1,272.4 L599.1,272.2 L602.1,271.9 L605.1,271.6 L608.0,271.3 L611.0,271.0 L614.0,270.7 L617.0,270.4 L620.0,270.1 L623.0,269.8 L626.0,269.5 L628.9,269.2 L631.9,268.9 L634.9,268.6 L637.9,268.3 L640.9,268.0 L643.9,267.7 L646.9,267.4 L649.9,267.1 L652.8,266.9 L655.8,266.6 L658.8,266.3 L661.8,266.1 L664.8,265.8 L667.8,265.6 L670.8,265.3 L673.8,265.0 L676.8,264.7 L679.7,264.4 L682.7,264.2 L685.7,263.9 L688.7,263.6 L691.7,263.2 L694.7,262.9 L697.7,262.6 L700.6,262.3 L703.6,262.0 L706.6,261.8 L709.6,261.5 L712.6,261.3 L715.6,261.0 L718.6,260.8 L721.6,260.6 L724.6,260.5 L727.6,260.3 L730.6,260.2 L733.6,260.0 L736.6,259.9 L739.6,259.7 L742.5,259.6 L745.5,259.4 L748.5,259.2 L751.5,259.0 L754.5,258.8 L757.5,258.6 L760.5,258.3 L763.5,258.0 L766.5,257.7 L769.4,257.3 L772.4,257.0 L775.4,256.6 L778.4,256.2 L781.4,255.8 L784.3,255.4 L787.3,255.0 L790.3,254.5 L793.2,254.1 L796.2,253.7 L799.2,253.2 L802.1,252.8 L805.1,252.4 L808.1,251.9 L811.0,251.5 L814.0,251.1 L817.0,250.7 L820.0,250.3 L822.9,249.9 L825.9,249.5 L828.9,249.1 L831.9,248.8 L834.9,248.4 L837.8,248.1 L840.8,247.7 L843.8,247.3 L846.8,247.0 L849.8,246.7 L852.7,246.3 L855.7,246.0 L858.7,245.6 L861.7,245.3 L864.7,245.0 L867.6,244.7 L870.6,244.3 L873.6,244.0 L876.6,243.7 L879.6,243.4 L882.6,243.0 L885.5,242.7 L888.5,242.4 L891.5,242.1 L894.5,241.8 L897.5,241.4 L900.5,241.1 L903.5,240.8 L906.4,240.5 L909.4,240.2 L912.4,239.9 L915.4,239.6 L918.4,239.3 L921.4,239.0 L924.3,238.7 L927.3,238.4 L930.3,238.1 L933.3,237.8 L936.3,237.5 L939.3,237.2 L942.3,236.9 L945.3,236.6 L948.2,236.3 L951.2,236.0 L954.2,235.8 L957.2,235.5 L960.2,235.2 L963.2,234.9 L966.2,234.6 L969.1,234.3 L972.1,234.0 L975.1,233.8 L978.1,233.5 L981.1,233.2 L984.1,232.9 L987.1,232.6 L990.1,232.3 L993.0,232.1 L996.0,231.8 L999.0,231.5 L1002.0,231.2 L1004.0,231.0" stroke="#8DABD3" stroke-width="5.0"/>
</g>
<g stroke-linecap="butt">
<line x1="295.0" y1="51.90" x2="310.3" y2="51.90" stroke="#000" stroke-width="2.6"/>
<line x1="299.0" y1="98.28" x2="310.3" y2="98.28" stroke="#333" stroke-width="2.4"/>
<line x1="299.0" y1="144.66" x2="310.3" y2="144.66" stroke="#333" stroke-width="2.4"/>
<line x1="299.0" y1="191.04" x2="310.3" y2="191.04" stroke="#333" stroke-width="2.4"/>
<line x1="299.0" y1="237.42" x2="310.3" y2="237.42" stroke="#333" stroke-width="2.4"/>
<line x1="295.0" y1="283.80" x2="310.3" y2="283.80" stroke="#000" stroke-width="2.6"/>
<line x1="299.0" y1="330.18" x2="310.3" y2="330.18" stroke="#333" stroke-width="2.4"/>
<line x1="299.0" y1="376.56" x2="310.3" y2="376.56" stroke="#333" stroke-width="2.4"/>
<line x1="299.0" y1="422.94" x2="310.3" y2="422.94" stroke="#333" stroke-width="2.4"/>
<line x1="299.0" y1="469.32" x2="310.3" y2="469.32" stroke="#333" stroke-width="2.4"/>
<line x1="295.0" y1="515.70" x2="310.3" y2="515.70" stroke="#000" stroke-width="2.6"/>
<line x1="299.0" y1="562.08" x2="310.3" y2="562.08" stroke="#333" stroke-width="2.4"/>
<line x1="299.0" y1="608.46" x2="310.3" y2="608.46" stroke="#333" stroke-width="2.4"/>
<line x1="299.0" y1="654.84" x2="310.3" y2="654.84" stroke="#333" stroke-width="2.4"/>
<line x1="299.0" y1="701.22" x2="310.3" y2="701.22" stroke="#333" stroke-width="2.4"/>
<line x1="295.0" y1="747.60" x2="310.3" y2="747.60" stroke="#000" stroke-width="2.6"/>
<line x1="299.0" y1="793.98" x2="310.3" y2="793.98" stroke="#333" stroke-width="2.4"/>
<line x1="299.0" y1="840.36" x2="310.3" y2="840.36" stroke="#333" stroke-width="2.4"/>
<line x1="299.0" y1="886.74" x2="310.3" y2="886.74" stroke="#333" stroke-width="2.4"/>
<line x1="299.0" y1="933.12" x2="310.3" y2="933.12" stroke="#333" stroke-width="2.4"/>
<line x1="295.0" y1="979.50" x2="310.3" y2="979.50" stroke="#000" stroke-width="2.6"/>
<line x1="310.30" y1="979.5" x2="310.30" y2="992.8" stroke="#000" stroke-width="2.6"/>
<line x1="360.94" y1="979.5" x2="360.94" y2="988.8" stroke="#333" stroke-width="2.4"/>
<line x1="411.59" y1="979.5" x2="411.59" y2="988.8" stroke="#333" stroke-width="2.4"/>
<line x1="462.23" y1="979.5" x2="462.23" y2="988.8" stroke="#333" stroke-width="2.4"/>
<line x1="512.87" y1="979.5" x2="512.87" y2="988.8" stroke="#333" stroke-width="2.4"/>
<line x1="563.52" y1="979.5" x2="563.52" y2="992.8" stroke="#000" stroke-width="2.6"/>
<line x1="614.16" y1="979.5" x2="614.16" y2="988.8" stroke="#333" stroke-width="2.4"/>
<line x1="664.80" y1="979.5" x2="664.80" y2="988.8" stroke="#333" stroke-width="2.4"/>
<line x1="715.45" y1="979.5" x2="715.45" y2="988.8" stroke="#333" stroke-width="2.4"/>
<line x1="766.09" y1="979.5" x2="766.09" y2="988.8" stroke="#333" stroke-width="2.4"/>
<line x1="816.73" y1="979.5" x2="816.73" y2="992.8" stroke="#000" stroke-width="2.6"/>
<line x1="867.38" y1="979.5" x2="867.38" y2="988.8" stroke="#333" stroke-width="2.4"/>
<line x1="918.02" y1="979.5" x2="918.02" y2="988.8" stroke="#333" stroke-width="2.4"/>
<line x1="968.66" y1="979.5" x2="968.66" y2="988.8" stroke="#333" stroke-width="2.4"/>
<line x1="1019.31" y1="979.5" x2="1019.31" y2="988.8" stroke="#333" stroke-width="2.4"/>
<line x1="1069.95" y1="979.5" x2="1069.95" y2="992.8" stroke="#000" stroke-width="2.6"/>
<line x1="1120.59" y1="979.5" x2="1120.59" y2="988.8" stroke="#333" stroke-width="2.4"/>
<line x1="1171.24" y1="979.5" x2="1171.24" y2="988.8" stroke="#333" stroke-width="2.4"/>
<line x1="1221.88" y1="979.5" x2="1221.88" y2="988.8" stroke="#333" stroke-width="2.4"/>
<line x1="1272.52" y1="979.5" x2="1272.52" y2="988.8" stroke="#333" stroke-width="2.4"/>
<line x1="1323.17" y1="979.5" x2="1323.17" y2="992.8" stroke="#000" stroke-width="2.6"/>
<line x1="1373.81" y1="979.5" x2="1373.81" y2="988.8" stroke="#333" stroke-width="2.4"/>
<line x1="1424.45" y1="979.5" x2="1424.45" y2="988.8" stroke="#333" stroke-width="2.4"/>
<line x1="1475.10" y1="979.5" x2="1475.10" y2="988.8" stroke="#333" stroke-width="2.4"/>
<line x1="1525.74" y1="979.5" x2="1525.74" y2="988.8" stroke="#333" stroke-width="2.4"/>
<line x1="1576.38" y1="979.5" x2="1576.38" y2="992.8" stroke="#000" stroke-width="2.6"/>
<line x1="1627.03" y1="979.5" x2="1627.03" y2="988.8" stroke="#333" stroke-width="2.4"/>
<line x1="1677.67" y1="979.5" x2="1677.67" y2="988.8" stroke="#333" stroke-width="2.4"/>
<line x1="1728.31" y1="979.5" x2="1728.31" y2="988.8" stroke="#333" stroke-width="2.4"/>
<line x1="1778.96" y1="979.5" x2="1778.96" y2="988.8" stroke="#333" stroke-width="2.4"/>
<line x1="1829.60" y1="979.5" x2="1829.60" y2="992.8" stroke="#000" stroke-width="2.6"/>
</g>
<g fill="none" stroke="#000" stroke-width="3.6">
<line x1="310.3" y1="50.4" x2="310.3" y2="992.8"/>
<line x1="295" y1="979.5" x2="1831.1" y2="979.5"/>
<line x1="310.3" y1="51.9" x2="1831.1" y2="51.9"/>
<line x1="1829.6" y1="50.4" x2="1829.6" y2="992.8" stroke="#2e2e2e" stroke-width="3.2"/>
</g>
<g font-size="46.5" text-anchor="end" letter-spacing="1.3">
<text x="273.0" y="67.2">0.010</text>
<text x="273.0" y="298.2">0.000</text>
<text x="273.0" y="527.8">-0.010</text>
<text x="273.0" y="761.6">-0.020</text>
<text x="273.0" y="992.7">-0.030</text>
</g>
<g font-size="46.5" text-anchor="middle" letter-spacing="1.3">
<text x="312.1" y="1044.5">0</text>
<text x="564.0" y="1044.5">0.5</text>
<text x="817.6" y="1044.5">1</text>
<text x="1069.2" y="1044.5">1.5</text>
<text x="1324.7" y="1044.5">2</text>
<text x="1577.7" y="1044.5">2.5</text>
<text x="1830.2" y="1044.5">3</text>
</g>
<text x="693.6" y="1134" font-size="63.2">Cell Voltage (V vs. Na<tspan font-size="44" dy="-18.5">+</tspan><tspan dy="18.5">/Na)</tspan></text>
<text transform="translate(60.9,608) rotate(-90)" font-size="64" textLength="163.3" lengthAdjust="spacingAndGlyphs">I (mA)</text>
<g stroke-width="5" stroke-linecap="butt">
<line x1="1119.5" y1="429.3" x2="1173.8" y2="429.3" stroke="#000" stroke-width="2.6"/>
<line x1="1119.5" y1="501.5" x2="1173.8" y2="501.5" stroke="#2176AE"/>
<line x1="1119.5" y1="571.6" x2="1173.8" y2="571.6" stroke="#76A83E"/>
<line x1="1119.5" y1="643.6" x2="1173.8" y2="643.6" stroke="#E00B0B"/>
<line x1="1119.5" y1="714.2" x2="1173.8" y2="714.2" stroke="#0396B1"/>
<line x1="1119.5" y1="784.5" x2="1173.8" y2="784.5" stroke="#F4822B"/>
<line x1="1119.5" y1="854.4" x2="1173.8" y2="854.4" stroke="#8DABD3"/>
</g>
<g font-size="49.5">
<text transform="translate(1177.2,447.1) scale(1.06,1)">Cycle 1</text>
<text transform="translate(1177.2,516.5) scale(1.06,1)">Cycle 2</text>
<text transform="translate(1177.2,586.9) scale(1.06,1)">Cycle 3</text>
<text transform="translate(1177.2,657.6) scale(1.06,1)">Cycle 4</text>
<text transform="translate(1177.2,728.3) scale(1.06,1)">Cycle 5</text>
<text transform="translate(1177.2,799.0) scale(1.06,1)">Cycle 6</text>
<text transform="translate(1177.2,869.7) scale(1.06,1)">Cycle 7</text>
</g>
</g>
</svg>
</body></html>
